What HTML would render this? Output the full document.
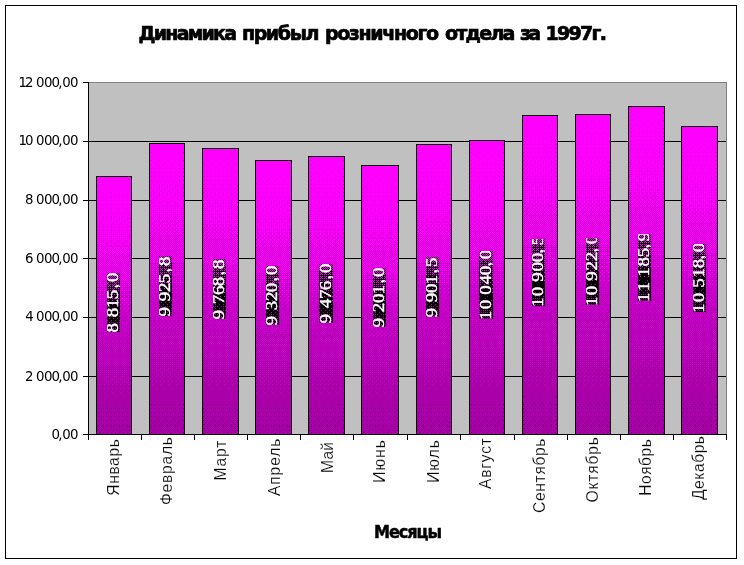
<!DOCTYPE html>
<html lang="ru"><head><meta charset="utf-8"><title>Динамика прибыл розничного отдела за 1997г.</title>
<style>html,body{margin:0;padding:0;background:#fff}body{width:744px;height:565px;overflow:hidden}svg{display:block}.s{font-family:"Liberation Sans",sans-serif}.t2{font-family:"DejaVu Sans","Liberation Sans",sans-serif}.r{font-family:"Liberation Serif",serif}.c{shape-rendering:crispEdges}</style></head><body>
<svg width="744" height="565" viewBox="0 0 744 565">
<defs><pattern id="b1_1" width="8" height="8" patternUnits="userSpaceOnUse"><rect width="8" height="8" fill="#ff00ff"/><path fill="#cc00cc" d="M7 0h1v1h-1z"/></pattern><pattern id="b1_2" width="8" height="8" patternUnits="userSpaceOnUse"><rect width="8" height="8" fill="#ff00ff"/><path fill="#cc00cc" d="M7 0h1v1h-1zM3 4h1v1h-1z"/></pattern><pattern id="b1_4" width="8" height="8" patternUnits="userSpaceOnUse"><rect width="8" height="8" fill="#ff00ff"/><path fill="#cc00cc" d="M3 0h1v1h-1zM7 0h1v1h-1zM3 4h1v1h-1zM7 4h1v1h-1z"/></pattern><pattern id="b1_7" width="8" height="8" patternUnits="userSpaceOnUse"><rect width="8" height="8" fill="#ff00ff"/><path fill="#cc00cc" d="M3 0h1v1h-1zM7 0h1v1h-1zM5 2h1v1h-1zM3 4h1v1h-1zM7 4h1v1h-1zM1 6h1v1h-1zM5 6h1v1h-1z"/></pattern><pattern id="b1_9" width="8" height="8" patternUnits="userSpaceOnUse"><rect width="8" height="8" fill="#ff00ff"/><path fill="#cc00cc" d="M3 0h1v1h-1zM7 0h1v1h-1zM1 2h1v1h-1zM5 2h1v1h-1zM7 2h1v1h-1zM3 4h1v1h-1zM7 4h1v1h-1zM1 6h1v1h-1zM5 6h1v1h-1z"/></pattern><pattern id="b1_11" width="8" height="8" patternUnits="userSpaceOnUse"><rect width="8" height="8" fill="#ff00ff"/><path fill="#cc00cc" d="M3 0h1v1h-1zM7 0h1v1h-1zM1 2h1v1h-1zM5 2h1v1h-1zM7 2h1v1h-1zM3 4h1v1h-1zM7 4h1v1h-1zM1 6h1v1h-1zM3 6h1v1h-1zM5 6h1v1h-1zM7 6h1v1h-1z"/></pattern><pattern id="b1_14" width="8" height="8" patternUnits="userSpaceOnUse"><rect width="8" height="8" fill="#ff00ff"/><path fill="#cc00cc" d="M3 0h1v1h-1zM5 0h1v1h-1zM7 0h1v1h-1zM1 2h1v1h-1zM3 2h1v1h-1zM5 2h1v1h-1zM7 2h1v1h-1zM1 4h1v1h-1zM3 4h1v1h-1zM7 4h1v1h-1zM1 6h1v1h-1zM3 6h1v1h-1zM5 6h1v1h-1zM7 6h1v1h-1z"/></pattern><pattern id="b1_15" width="8" height="8" patternUnits="userSpaceOnUse"><rect width="8" height="8" fill="#ff00ff"/><path fill="#cc00cc" d="M3 0h1v1h-1zM5 0h1v1h-1zM7 0h1v1h-1zM1 2h1v1h-1zM3 2h1v1h-1zM5 2h1v1h-1zM7 2h1v1h-1zM1 4h1v1h-1zM3 4h1v1h-1zM5 4h1v1h-1zM7 4h1v1h-1zM1 6h1v1h-1zM3 6h1v1h-1zM5 6h1v1h-1zM7 6h1v1h-1z"/></pattern><pattern id="b1_18" width="8" height="8" patternUnits="userSpaceOnUse"><rect width="8" height="8" fill="#ff00ff"/><path fill="#cc00cc" d="M1 0h1v1h-1zM3 0h1v1h-1zM5 0h1v1h-1zM7 0h1v1h-1zM6 1h1v1h-1zM1 2h1v1h-1zM3 2h1v1h-1zM5 2h1v1h-1zM7 2h1v1h-1zM1 4h1v1h-1zM3 4h1v1h-1zM5 4h1v1h-1zM7 4h1v1h-1zM2 5h1v1h-1zM1 6h1v1h-1zM3 6h1v1h-1zM5 6h1v1h-1zM7 6h1v1h-1z"/></pattern><pattern id="b1_20" width="8" height="8" patternUnits="userSpaceOnUse"><rect width="8" height="8" fill="#ff00ff"/><path fill="#cc00cc" d="M1 0h1v1h-1zM3 0h1v1h-1zM5 0h1v1h-1zM7 0h1v1h-1zM2 1h1v1h-1zM6 1h1v1h-1zM1 2h1v1h-1zM3 2h1v1h-1zM5 2h1v1h-1zM7 2h1v1h-1zM1 4h1v1h-1zM3 4h1v1h-1zM5 4h1v1h-1zM7 4h1v1h-1zM2 5h1v1h-1zM6 5h1v1h-1zM1 6h1v1h-1zM3 6h1v1h-1zM5 6h1v1h-1zM7 6h1v1h-1z"/></pattern><pattern id="b1_22" width="8" height="8" patternUnits="userSpaceOnUse"><rect width="8" height="8" fill="#ff00ff"/><path fill="#cc00cc" d="M1 0h1v1h-1zM3 0h1v1h-1zM5 0h1v1h-1zM7 0h1v1h-1zM2 1h1v1h-1zM6 1h1v1h-1zM1 2h1v1h-1zM3 2h1v1h-1zM5 2h1v1h-1zM7 2h1v1h-1zM4 3h1v1h-1zM1 4h1v1h-1zM3 4h1v1h-1zM5 4h1v1h-1zM7 4h1v1h-1zM2 5h1v1h-1zM6 5h1v1h-1zM1 6h1v1h-1zM3 6h1v1h-1zM5 6h1v1h-1zM7 6h1v1h-1zM0 7h1v1h-1z"/></pattern><pattern id="b1_23" width="8" height="8" patternUnits="userSpaceOnUse"><rect width="8" height="8" fill="#ff00ff"/><path fill="#cc00cc" d="M1 0h1v1h-1zM3 0h1v1h-1zM5 0h1v1h-1zM7 0h1v1h-1zM2 1h1v1h-1zM6 1h1v1h-1zM1 2h1v1h-1zM3 2h1v1h-1zM5 2h1v1h-1zM7 2h1v1h-1zM4 3h1v1h-1zM1 4h1v1h-1zM3 4h1v1h-1zM5 4h1v1h-1zM7 4h1v1h-1zM2 5h1v1h-1zM6 5h1v1h-1zM1 6h1v1h-1zM3 6h1v1h-1zM5 6h1v1h-1zM7 6h1v1h-1zM0 7h1v1h-1zM4 7h1v1h-1z"/></pattern><pattern id="b1_25" width="8" height="8" patternUnits="userSpaceOnUse"><rect width="8" height="8" fill="#ff00ff"/><path fill="#cc00cc" d="M1 0h1v1h-1zM3 0h1v1h-1zM5 0h1v1h-1zM7 0h1v1h-1zM2 1h1v1h-1zM6 1h1v1h-1zM1 2h1v1h-1zM3 2h1v1h-1zM5 2h1v1h-1zM7 2h1v1h-1zM0 3h1v1h-1zM4 3h1v1h-1zM6 3h1v1h-1zM1 4h1v1h-1zM3 4h1v1h-1zM5 4h1v1h-1zM7 4h1v1h-1zM2 5h1v1h-1zM6 5h1v1h-1zM1 6h1v1h-1zM3 6h1v1h-1zM5 6h1v1h-1zM7 6h1v1h-1zM0 7h1v1h-1zM4 7h1v1h-1z"/></pattern><pattern id="b1_27" width="8" height="8" patternUnits="userSpaceOnUse"><rect width="8" height="8" fill="#ff00ff"/><path fill="#cc00cc" d="M1 0h1v1h-1zM3 0h1v1h-1zM5 0h1v1h-1zM7 0h1v1h-1zM2 1h1v1h-1zM6 1h1v1h-1zM1 2h1v1h-1zM3 2h1v1h-1zM5 2h1v1h-1zM7 2h1v1h-1zM0 3h1v1h-1zM4 3h1v1h-1zM6 3h1v1h-1zM1 4h1v1h-1zM3 4h1v1h-1zM5 4h1v1h-1zM7 4h1v1h-1zM2 5h1v1h-1zM6 5h1v1h-1zM1 6h1v1h-1zM3 6h1v1h-1zM5 6h1v1h-1zM7 6h1v1h-1zM0 7h1v1h-1zM2 7h1v1h-1zM4 7h1v1h-1zM6 7h1v1h-1z"/></pattern><pattern id="b1_30" width="8" height="8" patternUnits="userSpaceOnUse"><rect width="8" height="8" fill="#ff00ff"/><path fill="#cc00cc" d="M1 0h1v1h-1zM3 0h1v1h-1zM5 0h1v1h-1zM7 0h1v1h-1zM2 1h1v1h-1zM4 1h1v1h-1zM6 1h1v1h-1zM1 2h1v1h-1zM3 2h1v1h-1zM5 2h1v1h-1zM7 2h1v1h-1zM0 3h1v1h-1zM2 3h1v1h-1zM4 3h1v1h-1zM6 3h1v1h-1zM1 4h1v1h-1zM3 4h1v1h-1zM5 4h1v1h-1zM7 4h1v1h-1zM0 5h1v1h-1zM2 5h1v1h-1zM6 5h1v1h-1zM1 6h1v1h-1zM3 6h1v1h-1zM5 6h1v1h-1zM7 6h1v1h-1zM0 7h1v1h-1zM2 7h1v1h-1zM4 7h1v1h-1zM6 7h1v1h-1z"/></pattern><pattern id="b1_32" width="8" height="8" patternUnits="userSpaceOnUse"><rect width="8" height="8" fill="#ff00ff"/><path fill="#cc00cc" d="M1 0h1v1h-1zM3 0h1v1h-1zM5 0h1v1h-1zM7 0h1v1h-1zM0 1h1v1h-1zM2 1h1v1h-1zM4 1h1v1h-1zM6 1h1v1h-1zM1 2h1v1h-1zM3 2h1v1h-1zM5 2h1v1h-1zM7 2h1v1h-1zM0 3h1v1h-1zM2 3h1v1h-1zM4 3h1v1h-1zM6 3h1v1h-1zM1 4h1v1h-1zM3 4h1v1h-1zM5 4h1v1h-1zM7 4h1v1h-1zM0 5h1v1h-1zM2 5h1v1h-1zM4 5h1v1h-1zM6 5h1v1h-1zM1 6h1v1h-1zM3 6h1v1h-1zM5 6h1v1h-1zM7 6h1v1h-1zM0 7h1v1h-1zM2 7h1v1h-1zM4 7h1v1h-1zM6 7h1v1h-1z"/></pattern><pattern id="b1_33" width="8" height="8" patternUnits="userSpaceOnUse"><rect width="8" height="8" fill="#cc00cc"/><path fill="#ff00ff" d="M0 0h1v1h-1zM2 0h1v1h-1zM4 0h1v1h-1zM6 0h1v1h-1zM1 1h1v1h-1zM3 1h1v1h-1zM5 1h1v1h-1zM0 2h1v1h-1zM2 2h1v1h-1zM4 2h1v1h-1zM6 2h1v1h-1zM1 3h1v1h-1zM3 3h1v1h-1zM5 3h1v1h-1zM7 3h1v1h-1zM0 4h1v1h-1zM2 4h1v1h-1zM4 4h1v1h-1zM6 4h1v1h-1zM1 5h1v1h-1zM3 5h1v1h-1zM5 5h1v1h-1zM7 5h1v1h-1zM0 6h1v1h-1zM2 6h1v1h-1zM4 6h1v1h-1zM6 6h1v1h-1zM1 7h1v1h-1zM3 7h1v1h-1zM5 7h1v1h-1zM7 7h1v1h-1z"/></pattern><pattern id="b1_43" width="8" height="8" patternUnits="userSpaceOnUse"><rect width="8" height="8" fill="#cc00cc"/><path fill="#ff00ff" d="M0 0h1v1h-1zM2 0h1v1h-1zM4 0h1v1h-1zM6 0h1v1h-1zM1 1h1v1h-1zM5 1h1v1h-1zM0 2h1v1h-1zM2 2h1v1h-1zM4 2h1v1h-1zM6 2h1v1h-1zM3 3h1v1h-1zM0 4h1v1h-1zM2 4h1v1h-1zM4 4h1v1h-1zM6 4h1v1h-1zM1 5h1v1h-1zM5 5h1v1h-1zM0 6h1v1h-1zM2 6h1v1h-1zM4 6h1v1h-1zM6 6h1v1h-1z"/></pattern><pattern id="b1_44" width="8" height="8" patternUnits="userSpaceOnUse"><rect width="8" height="8" fill="#cc00cc"/><path fill="#ff00ff" d="M0 0h1v1h-1zM2 0h1v1h-1zM4 0h1v1h-1zM6 0h1v1h-1zM1 1h1v1h-1zM5 1h1v1h-1zM0 2h1v1h-1zM2 2h1v1h-1zM4 2h1v1h-1zM6 2h1v1h-1zM0 4h1v1h-1zM2 4h1v1h-1zM4 4h1v1h-1zM6 4h1v1h-1zM1 5h1v1h-1zM5 5h1v1h-1zM0 6h1v1h-1zM2 6h1v1h-1zM4 6h1v1h-1zM6 6h1v1h-1z"/></pattern><pattern id="b1_47" width="8" height="8" patternUnits="userSpaceOnUse"><rect width="8" height="8" fill="#cc00cc"/><path fill="#ff00ff" d="M0 0h1v1h-1zM2 0h1v1h-1zM4 0h1v1h-1zM6 0h1v1h-1zM1 1h1v1h-1zM0 2h1v1h-1zM2 2h1v1h-1zM4 2h1v1h-1zM6 2h1v1h-1zM0 4h1v1h-1zM2 4h1v1h-1zM4 4h1v1h-1zM6 4h1v1h-1zM0 6h1v1h-1zM2 6h1v1h-1zM4 6h1v1h-1zM6 6h1v1h-1z"/></pattern><pattern id="b1_52" width="8" height="8" patternUnits="userSpaceOnUse"><rect width="8" height="8" fill="#cc00cc"/><path fill="#ff00ff" d="M0 0h1v1h-1zM4 0h1v1h-1zM0 2h1v1h-1zM2 2h1v1h-1zM4 2h1v1h-1zM6 2h1v1h-1zM0 4h1v1h-1zM4 4h1v1h-1zM0 6h1v1h-1zM2 6h1v1h-1zM4 6h1v1h-1zM6 6h1v1h-1z"/></pattern><pattern id="b1_55" width="8" height="8" patternUnits="userSpaceOnUse"><rect width="8" height="8" fill="#cc00cc"/><path fill="#ff00ff" d="M0 0h1v1h-1zM4 0h1v1h-1zM0 2h1v1h-1zM2 2h1v1h-1zM6 2h1v1h-1zM0 4h1v1h-1zM4 4h1v1h-1zM2 6h1v1h-1zM6 6h1v1h-1z"/></pattern><pattern id="b1_59" width="8" height="8" patternUnits="userSpaceOnUse"><rect width="8" height="8" fill="#cc00cc"/><path fill="#ff00ff" d="M0 0h1v1h-1zM4 0h1v1h-1zM2 2h1v1h-1zM0 4h1v1h-1zM4 4h1v1h-1z"/></pattern><pattern id="b1_60" width="8" height="8" patternUnits="userSpaceOnUse"><rect width="8" height="8" fill="#cc00cc"/><path fill="#ff00ff" d="M0 0h1v1h-1zM4 0h1v1h-1zM0 4h1v1h-1zM4 4h1v1h-1z"/></pattern><pattern id="b2_1" width="8" height="8" patternUnits="userSpaceOnUse"><rect width="8" height="8" fill="#cc00cc"/><path fill="#aa00aa" d="M7 0h1v1h-1z"/></pattern><pattern id="b2_5" width="8" height="8" patternUnits="userSpaceOnUse"><rect width="8" height="8" fill="#cc00cc"/><path fill="#aa00aa" d="M3 0h1v1h-1zM7 0h1v1h-1zM5 2h1v1h-1zM3 4h1v1h-1zM7 4h1v1h-1z"/></pattern><pattern id="b2_7" width="8" height="8" patternUnits="userSpaceOnUse"><rect width="8" height="8" fill="#cc00cc"/><path fill="#aa00aa" d="M3 0h1v1h-1zM7 0h1v1h-1zM5 2h1v1h-1zM3 4h1v1h-1zM7 4h1v1h-1zM1 6h1v1h-1zM5 6h1v1h-1z"/></pattern><pattern id="b2_9" width="8" height="8" patternUnits="userSpaceOnUse"><rect width="8" height="8" fill="#cc00cc"/><path fill="#aa00aa" d="M3 0h1v1h-1zM7 0h1v1h-1zM1 2h1v1h-1zM5 2h1v1h-1zM7 2h1v1h-1zM3 4h1v1h-1zM7 4h1v1h-1zM1 6h1v1h-1zM5 6h1v1h-1z"/></pattern><pattern id="b2_11" width="8" height="8" patternUnits="userSpaceOnUse"><rect width="8" height="8" fill="#cc00cc"/><path fill="#aa00aa" d="M3 0h1v1h-1zM7 0h1v1h-1zM1 2h1v1h-1zM5 2h1v1h-1zM7 2h1v1h-1zM3 4h1v1h-1zM7 4h1v1h-1zM1 6h1v1h-1zM3 6h1v1h-1zM5 6h1v1h-1zM7 6h1v1h-1z"/></pattern><pattern id="b2_14" width="8" height="8" patternUnits="userSpaceOnUse"><rect width="8" height="8" fill="#cc00cc"/><path fill="#aa00aa" d="M3 0h1v1h-1zM5 0h1v1h-1zM7 0h1v1h-1zM1 2h1v1h-1zM3 2h1v1h-1zM5 2h1v1h-1zM7 2h1v1h-1zM1 4h1v1h-1zM3 4h1v1h-1zM7 4h1v1h-1zM1 6h1v1h-1zM3 6h1v1h-1zM5 6h1v1h-1zM7 6h1v1h-1z"/></pattern><pattern id="b2_16" width="8" height="8" patternUnits="userSpaceOnUse"><rect width="8" height="8" fill="#cc00cc"/><path fill="#aa00aa" d="M1 0h1v1h-1zM3 0h1v1h-1zM5 0h1v1h-1zM7 0h1v1h-1zM1 2h1v1h-1zM3 2h1v1h-1zM5 2h1v1h-1zM7 2h1v1h-1zM1 4h1v1h-1zM3 4h1v1h-1zM5 4h1v1h-1zM7 4h1v1h-1zM1 6h1v1h-1zM3 6h1v1h-1zM5 6h1v1h-1zM7 6h1v1h-1z"/></pattern><pattern id="b2_18" width="8" height="8" patternUnits="userSpaceOnUse"><rect width="8" height="8" fill="#cc00cc"/><path fill="#aa00aa" d="M1 0h1v1h-1zM3 0h1v1h-1zM5 0h1v1h-1zM7 0h1v1h-1zM6 1h1v1h-1zM1 2h1v1h-1zM3 2h1v1h-1zM5 2h1v1h-1zM7 2h1v1h-1zM1 4h1v1h-1zM3 4h1v1h-1zM5 4h1v1h-1zM7 4h1v1h-1zM2 5h1v1h-1zM1 6h1v1h-1zM3 6h1v1h-1zM5 6h1v1h-1zM7 6h1v1h-1z"/></pattern><pattern id="b2_20" width="8" height="8" patternUnits="userSpaceOnUse"><rect width="8" height="8" fill="#cc00cc"/><path fill="#aa00aa" d="M1 0h1v1h-1zM3 0h1v1h-1zM5 0h1v1h-1zM7 0h1v1h-1zM2 1h1v1h-1zM6 1h1v1h-1zM1 2h1v1h-1zM3 2h1v1h-1zM5 2h1v1h-1zM7 2h1v1h-1zM1 4h1v1h-1zM3 4h1v1h-1zM5 4h1v1h-1zM7 4h1v1h-1zM2 5h1v1h-1zM6 5h1v1h-1zM1 6h1v1h-1zM3 6h1v1h-1zM5 6h1v1h-1zM7 6h1v1h-1z"/></pattern><pattern id="b2_22" width="8" height="8" patternUnits="userSpaceOnUse"><rect width="8" height="8" fill="#cc00cc"/><path fill="#aa00aa" d="M1 0h1v1h-1zM3 0h1v1h-1zM5 0h1v1h-1zM7 0h1v1h-1zM2 1h1v1h-1zM6 1h1v1h-1zM1 2h1v1h-1zM3 2h1v1h-1zM5 2h1v1h-1zM7 2h1v1h-1zM4 3h1v1h-1zM1 4h1v1h-1zM3 4h1v1h-1zM5 4h1v1h-1zM7 4h1v1h-1zM2 5h1v1h-1zM6 5h1v1h-1zM1 6h1v1h-1zM3 6h1v1h-1zM5 6h1v1h-1zM7 6h1v1h-1zM0 7h1v1h-1z"/></pattern><pattern id="b2_25" width="8" height="8" patternUnits="userSpaceOnUse"><rect width="8" height="8" fill="#cc00cc"/><path fill="#aa00aa" d="M1 0h1v1h-1zM3 0h1v1h-1zM5 0h1v1h-1zM7 0h1v1h-1zM2 1h1v1h-1zM6 1h1v1h-1zM1 2h1v1h-1zM3 2h1v1h-1zM5 2h1v1h-1zM7 2h1v1h-1zM0 3h1v1h-1zM4 3h1v1h-1zM6 3h1v1h-1zM1 4h1v1h-1zM3 4h1v1h-1zM5 4h1v1h-1zM7 4h1v1h-1zM2 5h1v1h-1zM6 5h1v1h-1zM1 6h1v1h-1zM3 6h1v1h-1zM5 6h1v1h-1zM7 6h1v1h-1zM0 7h1v1h-1zM4 7h1v1h-1z"/></pattern><pattern id="b2_27" width="8" height="8" patternUnits="userSpaceOnUse"><rect width="8" height="8" fill="#cc00cc"/><path fill="#aa00aa" d="M1 0h1v1h-1zM3 0h1v1h-1zM5 0h1v1h-1zM7 0h1v1h-1zM2 1h1v1h-1zM6 1h1v1h-1zM1 2h1v1h-1zM3 2h1v1h-1zM5 2h1v1h-1zM7 2h1v1h-1zM0 3h1v1h-1zM4 3h1v1h-1zM6 3h1v1h-1zM1 4h1v1h-1zM3 4h1v1h-1zM5 4h1v1h-1zM7 4h1v1h-1zM2 5h1v1h-1zM6 5h1v1h-1zM1 6h1v1h-1zM3 6h1v1h-1zM5 6h1v1h-1zM7 6h1v1h-1zM0 7h1v1h-1zM2 7h1v1h-1zM4 7h1v1h-1zM6 7h1v1h-1z"/></pattern><pattern id="b2_29" width="8" height="8" patternUnits="userSpaceOnUse"><rect width="8" height="8" fill="#cc00cc"/><path fill="#aa00aa" d="M1 0h1v1h-1zM3 0h1v1h-1zM5 0h1v1h-1zM7 0h1v1h-1zM2 1h1v1h-1zM4 1h1v1h-1zM6 1h1v1h-1zM1 2h1v1h-1zM3 2h1v1h-1zM5 2h1v1h-1zM7 2h1v1h-1zM0 3h1v1h-1zM2 3h1v1h-1zM4 3h1v1h-1zM6 3h1v1h-1zM1 4h1v1h-1zM3 4h1v1h-1zM5 4h1v1h-1zM7 4h1v1h-1zM2 5h1v1h-1zM6 5h1v1h-1zM1 6h1v1h-1zM3 6h1v1h-1zM5 6h1v1h-1zM7 6h1v1h-1zM0 7h1v1h-1zM2 7h1v1h-1zM4 7h1v1h-1zM6 7h1v1h-1z"/></pattern><pattern id="b2_30" width="8" height="8" patternUnits="userSpaceOnUse"><rect width="8" height="8" fill="#cc00cc"/><path fill="#aa00aa" d="M1 0h1v1h-1zM3 0h1v1h-1zM5 0h1v1h-1zM7 0h1v1h-1zM2 1h1v1h-1zM4 1h1v1h-1zM6 1h1v1h-1zM1 2h1v1h-1zM3 2h1v1h-1zM5 2h1v1h-1zM7 2h1v1h-1zM0 3h1v1h-1zM2 3h1v1h-1zM4 3h1v1h-1zM6 3h1v1h-1zM1 4h1v1h-1zM3 4h1v1h-1zM5 4h1v1h-1zM7 4h1v1h-1zM0 5h1v1h-1zM2 5h1v1h-1zM6 5h1v1h-1zM1 6h1v1h-1zM3 6h1v1h-1zM5 6h1v1h-1zM7 6h1v1h-1zM0 7h1v1h-1zM2 7h1v1h-1zM4 7h1v1h-1zM6 7h1v1h-1z"/></pattern><pattern id="b2_31" width="8" height="8" patternUnits="userSpaceOnUse"><rect width="8" height="8" fill="#cc00cc"/><path fill="#aa00aa" d="M1 0h1v1h-1zM3 0h1v1h-1zM5 0h1v1h-1zM7 0h1v1h-1zM2 1h1v1h-1zM4 1h1v1h-1zM6 1h1v1h-1zM1 2h1v1h-1zM3 2h1v1h-1zM5 2h1v1h-1zM7 2h1v1h-1zM0 3h1v1h-1zM2 3h1v1h-1zM4 3h1v1h-1zM6 3h1v1h-1zM1 4h1v1h-1zM3 4h1v1h-1zM5 4h1v1h-1zM7 4h1v1h-1zM0 5h1v1h-1zM2 5h1v1h-1zM4 5h1v1h-1zM6 5h1v1h-1zM1 6h1v1h-1zM3 6h1v1h-1zM5 6h1v1h-1zM7 6h1v1h-1zM0 7h1v1h-1zM2 7h1v1h-1zM4 7h1v1h-1zM6 7h1v1h-1z"/></pattern><pattern id="b2_32" width="8" height="8" patternUnits="userSpaceOnUse"><rect width="8" height="8" fill="#cc00cc"/><path fill="#aa00aa" d="M1 0h1v1h-1zM3 0h1v1h-1zM5 0h1v1h-1zM7 0h1v1h-1zM0 1h1v1h-1zM2 1h1v1h-1zM4 1h1v1h-1zM6 1h1v1h-1zM1 2h1v1h-1zM3 2h1v1h-1zM5 2h1v1h-1zM7 2h1v1h-1zM0 3h1v1h-1zM2 3h1v1h-1zM4 3h1v1h-1zM6 3h1v1h-1zM1 4h1v1h-1zM3 4h1v1h-1zM5 4h1v1h-1zM7 4h1v1h-1zM0 5h1v1h-1zM2 5h1v1h-1zM4 5h1v1h-1zM6 5h1v1h-1zM1 6h1v1h-1zM3 6h1v1h-1zM5 6h1v1h-1zM7 6h1v1h-1zM0 7h1v1h-1zM2 7h1v1h-1zM4 7h1v1h-1zM6 7h1v1h-1z"/></pattern><pattern id="b2_33" width="8" height="8" patternUnits="userSpaceOnUse"><rect width="8" height="8" fill="#aa00aa"/><path fill="#cc00cc" d="M0 0h1v1h-1zM2 0h1v1h-1zM4 0h1v1h-1zM6 0h1v1h-1zM1 1h1v1h-1zM3 1h1v1h-1zM5 1h1v1h-1zM0 2h1v1h-1zM2 2h1v1h-1zM4 2h1v1h-1zM6 2h1v1h-1zM1 3h1v1h-1zM3 3h1v1h-1zM5 3h1v1h-1zM7 3h1v1h-1zM0 4h1v1h-1zM2 4h1v1h-1zM4 4h1v1h-1zM6 4h1v1h-1zM1 5h1v1h-1zM3 5h1v1h-1zM5 5h1v1h-1zM7 5h1v1h-1zM0 6h1v1h-1zM2 6h1v1h-1zM4 6h1v1h-1zM6 6h1v1h-1zM1 7h1v1h-1zM3 7h1v1h-1zM5 7h1v1h-1zM7 7h1v1h-1z"/></pattern><pattern id="b2_35" width="8" height="8" patternUnits="userSpaceOnUse"><rect width="8" height="8" fill="#aa00aa"/><path fill="#cc00cc" d="M0 0h1v1h-1zM2 0h1v1h-1zM4 0h1v1h-1zM6 0h1v1h-1zM1 1h1v1h-1zM3 1h1v1h-1zM5 1h1v1h-1zM0 2h1v1h-1zM2 2h1v1h-1zM4 2h1v1h-1zM6 2h1v1h-1zM1 3h1v1h-1zM3 3h1v1h-1zM5 3h1v1h-1zM7 3h1v1h-1zM0 4h1v1h-1zM2 4h1v1h-1zM4 4h1v1h-1zM6 4h1v1h-1zM1 5h1v1h-1zM5 5h1v1h-1zM0 6h1v1h-1zM2 6h1v1h-1zM4 6h1v1h-1zM6 6h1v1h-1zM1 7h1v1h-1zM3 7h1v1h-1zM5 7h1v1h-1zM7 7h1v1h-1z"/></pattern><pattern id="b2_36" width="8" height="8" patternUnits="userSpaceOnUse"><rect width="8" height="8" fill="#aa00aa"/><path fill="#cc00cc" d="M0 0h1v1h-1zM2 0h1v1h-1zM4 0h1v1h-1zM6 0h1v1h-1zM1 1h1v1h-1zM5 1h1v1h-1zM0 2h1v1h-1zM2 2h1v1h-1zM4 2h1v1h-1zM6 2h1v1h-1zM1 3h1v1h-1zM3 3h1v1h-1zM5 3h1v1h-1zM7 3h1v1h-1zM0 4h1v1h-1zM2 4h1v1h-1zM4 4h1v1h-1zM6 4h1v1h-1zM1 5h1v1h-1zM5 5h1v1h-1zM0 6h1v1h-1zM2 6h1v1h-1zM4 6h1v1h-1zM6 6h1v1h-1zM1 7h1v1h-1zM3 7h1v1h-1zM5 7h1v1h-1zM7 7h1v1h-1z"/></pattern><pattern id="b2_40" width="8" height="8" patternUnits="userSpaceOnUse"><rect width="8" height="8" fill="#aa00aa"/><path fill="#cc00cc" d="M0 0h1v1h-1zM2 0h1v1h-1zM4 0h1v1h-1zM6 0h1v1h-1zM1 1h1v1h-1zM5 1h1v1h-1zM0 2h1v1h-1zM2 2h1v1h-1zM4 2h1v1h-1zM6 2h1v1h-1zM3 3h1v1h-1zM7 3h1v1h-1zM0 4h1v1h-1zM2 4h1v1h-1zM4 4h1v1h-1zM6 4h1v1h-1zM1 5h1v1h-1zM5 5h1v1h-1zM0 6h1v1h-1zM2 6h1v1h-1zM4 6h1v1h-1zM6 6h1v1h-1zM3 7h1v1h-1zM7 7h1v1h-1z"/></pattern><pattern id="b2_43" width="8" height="8" patternUnits="userSpaceOnUse"><rect width="8" height="8" fill="#aa00aa"/><path fill="#cc00cc" d="M0 0h1v1h-1zM2 0h1v1h-1zM4 0h1v1h-1zM6 0h1v1h-1zM1 1h1v1h-1zM5 1h1v1h-1zM0 2h1v1h-1zM2 2h1v1h-1zM4 2h1v1h-1zM6 2h1v1h-1zM3 3h1v1h-1zM0 4h1v1h-1zM2 4h1v1h-1zM4 4h1v1h-1zM6 4h1v1h-1zM1 5h1v1h-1zM5 5h1v1h-1zM0 6h1v1h-1zM2 6h1v1h-1zM4 6h1v1h-1zM6 6h1v1h-1z"/></pattern><pattern id="b2_46" width="8" height="8" patternUnits="userSpaceOnUse"><rect width="8" height="8" fill="#aa00aa"/><path fill="#cc00cc" d="M0 0h1v1h-1zM2 0h1v1h-1zM4 0h1v1h-1zM6 0h1v1h-1zM1 1h1v1h-1zM0 2h1v1h-1zM2 2h1v1h-1zM4 2h1v1h-1zM6 2h1v1h-1zM0 4h1v1h-1zM2 4h1v1h-1zM4 4h1v1h-1zM6 4h1v1h-1zM5 5h1v1h-1zM0 6h1v1h-1zM2 6h1v1h-1zM4 6h1v1h-1zM6 6h1v1h-1z"/></pattern><pattern id="b2_49" width="8" height="8" patternUnits="userSpaceOnUse"><rect width="8" height="8" fill="#aa00aa"/><path fill="#cc00cc" d="M0 0h1v1h-1zM2 0h1v1h-1zM4 0h1v1h-1zM0 2h1v1h-1zM2 2h1v1h-1zM4 2h1v1h-1zM6 2h1v1h-1zM0 4h1v1h-1zM2 4h1v1h-1zM4 4h1v1h-1zM6 4h1v1h-1zM0 6h1v1h-1zM2 6h1v1h-1zM4 6h1v1h-1zM6 6h1v1h-1z"/></pattern><pattern id="b2_51" width="8" height="8" patternUnits="userSpaceOnUse"><rect width="8" height="8" fill="#aa00aa"/><path fill="#cc00cc" d="M0 0h1v1h-1zM2 0h1v1h-1zM4 0h1v1h-1zM0 2h1v1h-1zM2 2h1v1h-1zM4 2h1v1h-1zM6 2h1v1h-1zM0 4h1v1h-1zM4 4h1v1h-1zM0 6h1v1h-1zM2 6h1v1h-1zM4 6h1v1h-1zM6 6h1v1h-1z"/></pattern><pattern id="b2_54" width="8" height="8" patternUnits="userSpaceOnUse"><rect width="8" height="8" fill="#aa00aa"/><path fill="#cc00cc" d="M0 0h1v1h-1zM4 0h1v1h-1zM0 2h1v1h-1zM2 2h1v1h-1zM6 2h1v1h-1zM0 4h1v1h-1zM4 4h1v1h-1zM2 6h1v1h-1zM4 6h1v1h-1zM6 6h1v1h-1z"/></pattern><pattern id="b2_56" width="8" height="8" patternUnits="userSpaceOnUse"><rect width="8" height="8" fill="#aa00aa"/><path fill="#cc00cc" d="M0 0h1v1h-1zM4 0h1v1h-1zM2 2h1v1h-1zM6 2h1v1h-1zM0 4h1v1h-1zM4 4h1v1h-1zM2 6h1v1h-1zM6 6h1v1h-1z"/></pattern><pattern id="b2_58" width="8" height="8" patternUnits="userSpaceOnUse"><rect width="8" height="8" fill="#aa00aa"/><path fill="#cc00cc" d="M0 0h1v1h-1zM4 0h1v1h-1zM2 2h1v1h-1zM0 4h1v1h-1zM4 4h1v1h-1zM6 6h1v1h-1z"/></pattern><pattern id="b2_60" width="8" height="8" patternUnits="userSpaceOnUse"><rect width="8" height="8" fill="#aa00aa"/><path fill="#cc00cc" d="M0 0h1v1h-1zM4 0h1v1h-1zM0 4h1v1h-1zM4 4h1v1h-1z"/></pattern><pattern id="b2_61" width="8" height="8" patternUnits="userSpaceOnUse"><rect width="8" height="8" fill="#aa00aa"/><path fill="#cc00cc" d="M0 0h1v1h-1zM0 4h1v1h-1zM4 4h1v1h-1z"/></pattern><pattern id="b2_62" width="8" height="8" patternUnits="userSpaceOnUse"><rect width="8" height="8" fill="#aa00aa"/><path fill="#cc00cc" d="M0 0h1v1h-1zM4 4h1v1h-1z"/></pattern><pattern id="b2_63" width="8" height="8" patternUnits="userSpaceOnUse"><rect width="8" height="8" fill="#aa00aa"/><path fill="#cc00cc" d="M0 0h1v1h-1z"/></pattern><pattern id="b3_1" width="8" height="8" patternUnits="userSpaceOnUse"><rect width="8" height="8" fill="#aa00aa"/><path fill="#660066" d="M3 4h1v1h-1z"/></pattern><pattern id="b3_5" width="8" height="8" patternUnits="userSpaceOnUse"><rect width="8" height="8" fill="#aa00aa"/><path fill="#660066" d="M3 0h1v1h-1zM7 0h1v1h-1zM5 2h1v1h-1zM3 4h1v1h-1zM7 4h1v1h-1z"/></pattern><pattern id="b3_9" width="8" height="8" patternUnits="userSpaceOnUse"><rect width="8" height="8" fill="#aa00aa"/><path fill="#660066" d="M3 0h1v1h-1zM7 0h1v1h-1zM1 2h1v1h-1zM5 2h1v1h-1zM7 2h1v1h-1zM3 4h1v1h-1zM7 4h1v1h-1zM1 6h1v1h-1zM5 6h1v1h-1z"/></pattern><pattern id="l1_32" width="8" height="8" patternUnits="userSpaceOnUse"><rect width="8" height="8" fill="#ff00ff"/><path fill="#000" d="M1 0h1v1h-1zM3 0h1v1h-1zM5 0h1v1h-1zM7 0h1v1h-1zM0 1h1v1h-1zM2 1h1v1h-1zM4 1h1v1h-1zM6 1h1v1h-1zM1 2h1v1h-1zM3 2h1v1h-1zM5 2h1v1h-1zM7 2h1v1h-1zM0 3h1v1h-1zM2 3h1v1h-1zM4 3h1v1h-1zM6 3h1v1h-1zM1 4h1v1h-1zM3 4h1v1h-1zM5 4h1v1h-1zM7 4h1v1h-1zM0 5h1v1h-1zM2 5h1v1h-1zM4 5h1v1h-1zM6 5h1v1h-1zM1 6h1v1h-1zM3 6h1v1h-1zM5 6h1v1h-1zM7 6h1v1h-1zM0 7h1v1h-1zM2 7h1v1h-1zM4 7h1v1h-1zM6 7h1v1h-1z"/></pattern><pattern id="l1_33" width="8" height="8" patternUnits="userSpaceOnUse"><rect width="8" height="8" fill="#000"/><path fill="#ff00ff" d="M0 0h1v1h-1zM2 0h1v1h-1zM4 0h1v1h-1zM6 0h1v1h-1zM1 1h1v1h-1zM3 1h1v1h-1zM5 1h1v1h-1zM0 2h1v1h-1zM2 2h1v1h-1zM4 2h1v1h-1zM6 2h1v1h-1zM1 3h1v1h-1zM3 3h1v1h-1zM5 3h1v1h-1zM7 3h1v1h-1zM0 4h1v1h-1zM2 4h1v1h-1zM4 4h1v1h-1zM6 4h1v1h-1zM1 5h1v1h-1zM3 5h1v1h-1zM5 5h1v1h-1zM7 5h1v1h-1zM0 6h1v1h-1zM2 6h1v1h-1zM4 6h1v1h-1zM6 6h1v1h-1zM1 7h1v1h-1zM3 7h1v1h-1zM5 7h1v1h-1zM7 7h1v1h-1z"/></pattern><pattern id="l1_43" width="8" height="8" patternUnits="userSpaceOnUse"><rect width="8" height="8" fill="#000"/><path fill="#ff00ff" d="M0 0h1v1h-1zM2 0h1v1h-1zM4 0h1v1h-1zM6 0h1v1h-1zM1 1h1v1h-1zM5 1h1v1h-1zM0 2h1v1h-1zM2 2h1v1h-1zM4 2h1v1h-1zM6 2h1v1h-1zM3 3h1v1h-1zM0 4h1v1h-1zM2 4h1v1h-1zM4 4h1v1h-1zM6 4h1v1h-1zM1 5h1v1h-1zM5 5h1v1h-1zM0 6h1v1h-1zM2 6h1v1h-1zM4 6h1v1h-1zM6 6h1v1h-1z"/></pattern><pattern id="l1_44" width="8" height="8" patternUnits="userSpaceOnUse"><rect width="8" height="8" fill="#000"/><path fill="#ff00ff" d="M0 0h1v1h-1zM2 0h1v1h-1zM4 0h1v1h-1zM6 0h1v1h-1zM1 1h1v1h-1zM5 1h1v1h-1zM0 2h1v1h-1zM2 2h1v1h-1zM4 2h1v1h-1zM6 2h1v1h-1zM0 4h1v1h-1zM2 4h1v1h-1zM4 4h1v1h-1zM6 4h1v1h-1zM1 5h1v1h-1zM5 5h1v1h-1zM0 6h1v1h-1zM2 6h1v1h-1zM4 6h1v1h-1zM6 6h1v1h-1z"/></pattern><pattern id="l1_47" width="8" height="8" patternUnits="userSpaceOnUse"><rect width="8" height="8" fill="#000"/><path fill="#ff00ff" d="M0 0h1v1h-1zM2 0h1v1h-1zM4 0h1v1h-1zM6 0h1v1h-1zM1 1h1v1h-1zM0 2h1v1h-1zM2 2h1v1h-1zM4 2h1v1h-1zM6 2h1v1h-1zM0 4h1v1h-1zM2 4h1v1h-1zM4 4h1v1h-1zM6 4h1v1h-1zM0 6h1v1h-1zM2 6h1v1h-1zM4 6h1v1h-1zM6 6h1v1h-1z"/></pattern><pattern id="l1_52" width="8" height="8" patternUnits="userSpaceOnUse"><rect width="8" height="8" fill="#000"/><path fill="#ff00ff" d="M0 0h1v1h-1zM4 0h1v1h-1zM0 2h1v1h-1zM2 2h1v1h-1zM4 2h1v1h-1zM6 2h1v1h-1zM0 4h1v1h-1zM4 4h1v1h-1zM0 6h1v1h-1zM2 6h1v1h-1zM4 6h1v1h-1zM6 6h1v1h-1z"/></pattern><pattern id="l1_55" width="8" height="8" patternUnits="userSpaceOnUse"><rect width="8" height="8" fill="#000"/><path fill="#ff00ff" d="M0 0h1v1h-1zM4 0h1v1h-1zM0 2h1v1h-1zM2 2h1v1h-1zM6 2h1v1h-1zM0 4h1v1h-1zM4 4h1v1h-1zM2 6h1v1h-1zM6 6h1v1h-1z"/></pattern><pattern id="l1_59" width="8" height="8" patternUnits="userSpaceOnUse"><rect width="8" height="8" fill="#000"/><path fill="#ff00ff" d="M0 0h1v1h-1zM4 0h1v1h-1zM2 2h1v1h-1zM0 4h1v1h-1zM4 4h1v1h-1z"/></pattern><pattern id="l1_60" width="8" height="8" patternUnits="userSpaceOnUse"><rect width="8" height="8" fill="#000"/><path fill="#ff00ff" d="M0 0h1v1h-1zM4 0h1v1h-1zM0 4h1v1h-1zM4 4h1v1h-1z"/></pattern><pattern id="l2_1" width="8" height="8" patternUnits="userSpaceOnUse"><rect width="8" height="8" fill="#000"/><path fill="#aa00aa" d="M7 0h1v1h-1z"/></pattern><pattern id="l2_5" width="8" height="8" patternUnits="userSpaceOnUse"><rect width="8" height="8" fill="#000"/><path fill="#aa00aa" d="M3 0h1v1h-1zM7 0h1v1h-1zM5 2h1v1h-1zM3 4h1v1h-1zM7 4h1v1h-1z"/></pattern><pattern id="l2_7" width="8" height="8" patternUnits="userSpaceOnUse"><rect width="8" height="8" fill="#000"/><path fill="#aa00aa" d="M3 0h1v1h-1zM7 0h1v1h-1zM5 2h1v1h-1zM3 4h1v1h-1zM7 4h1v1h-1zM1 6h1v1h-1zM5 6h1v1h-1z"/></pattern><pattern id="l2_9" width="8" height="8" patternUnits="userSpaceOnUse"><rect width="8" height="8" fill="#000"/><path fill="#aa00aa" d="M3 0h1v1h-1zM7 0h1v1h-1zM1 2h1v1h-1zM5 2h1v1h-1zM7 2h1v1h-1zM3 4h1v1h-1zM7 4h1v1h-1zM1 6h1v1h-1zM5 6h1v1h-1z"/></pattern><pattern id="l2_11" width="8" height="8" patternUnits="userSpaceOnUse"><rect width="8" height="8" fill="#000"/><path fill="#aa00aa" d="M3 0h1v1h-1zM7 0h1v1h-1zM1 2h1v1h-1zM5 2h1v1h-1zM7 2h1v1h-1zM3 4h1v1h-1zM7 4h1v1h-1zM1 6h1v1h-1zM3 6h1v1h-1zM5 6h1v1h-1zM7 6h1v1h-1z"/></pattern><pattern id="l2_14" width="8" height="8" patternUnits="userSpaceOnUse"><rect width="8" height="8" fill="#000"/><path fill="#aa00aa" d="M3 0h1v1h-1zM5 0h1v1h-1zM7 0h1v1h-1zM1 2h1v1h-1zM3 2h1v1h-1zM5 2h1v1h-1zM7 2h1v1h-1zM1 4h1v1h-1zM3 4h1v1h-1zM7 4h1v1h-1zM1 6h1v1h-1zM3 6h1v1h-1zM5 6h1v1h-1zM7 6h1v1h-1z"/></pattern><pattern id="l2_16" width="8" height="8" patternUnits="userSpaceOnUse"><rect width="8" height="8" fill="#000"/><path fill="#aa00aa" d="M1 0h1v1h-1zM3 0h1v1h-1zM5 0h1v1h-1zM7 0h1v1h-1zM1 2h1v1h-1zM3 2h1v1h-1zM5 2h1v1h-1zM7 2h1v1h-1zM1 4h1v1h-1zM3 4h1v1h-1zM5 4h1v1h-1zM7 4h1v1h-1zM1 6h1v1h-1zM3 6h1v1h-1zM5 6h1v1h-1zM7 6h1v1h-1z"/></pattern><pattern id="l2_18" width="8" height="8" patternUnits="userSpaceOnUse"><rect width="8" height="8" fill="#000"/><path fill="#aa00aa" d="M1 0h1v1h-1zM3 0h1v1h-1zM5 0h1v1h-1zM7 0h1v1h-1zM6 1h1v1h-1zM1 2h1v1h-1zM3 2h1v1h-1zM5 2h1v1h-1zM7 2h1v1h-1zM1 4h1v1h-1zM3 4h1v1h-1zM5 4h1v1h-1zM7 4h1v1h-1zM2 5h1v1h-1zM1 6h1v1h-1zM3 6h1v1h-1zM5 6h1v1h-1zM7 6h1v1h-1z"/></pattern><pattern id="l2_20" width="8" height="8" patternUnits="userSpaceOnUse"><rect width="8" height="8" fill="#000"/><path fill="#aa00aa" d="M1 0h1v1h-1zM3 0h1v1h-1zM5 0h1v1h-1zM7 0h1v1h-1zM2 1h1v1h-1zM6 1h1v1h-1zM1 2h1v1h-1zM3 2h1v1h-1zM5 2h1v1h-1zM7 2h1v1h-1zM1 4h1v1h-1zM3 4h1v1h-1zM5 4h1v1h-1zM7 4h1v1h-1zM2 5h1v1h-1zM6 5h1v1h-1zM1 6h1v1h-1zM3 6h1v1h-1zM5 6h1v1h-1zM7 6h1v1h-1z"/></pattern></defs>
<rect width="744" height="565" fill="#fff"/>
<g class="c">
<rect x="5.5" y="5.5" width="731" height="553" fill="#fff" stroke="#000" stroke-width="1"/>
<rect x="88" y="82" width="639" height="353" fill="#808080"/>
<rect x="89" y="83" width="637" height="351" fill="#c0c0c0"/>
<rect x="88" y="141" width="638" height="1" fill="#000"/>
<rect x="88" y="200" width="638" height="1" fill="#000"/>
<rect x="88" y="258" width="638" height="1" fill="#000"/>
<rect x="88" y="317" width="638" height="1" fill="#000"/>
<rect x="88" y="376" width="638" height="1" fill="#000"/>
<rect x="88" y="82" width="1" height="353" fill="#000"/>
<rect x="88" y="434" width="639" height="1" fill="#000"/>
<rect x="83" y="82" width="5" height="1" fill="#000"/>
<rect x="83" y="141" width="5" height="1" fill="#000"/>
<rect x="83" y="200" width="5" height="1" fill="#000"/>
<rect x="83" y="258" width="5" height="1" fill="#000"/>
<rect x="83" y="317" width="5" height="1" fill="#000"/>
<rect x="83" y="376" width="5" height="1" fill="#000"/>
<rect x="83" y="434" width="5" height="1" fill="#000"/>
<rect x="88" y="434" width="1" height="6" fill="#000"/>
<rect x="141" y="434" width="1" height="6" fill="#000"/>
<rect x="194" y="434" width="1" height="6" fill="#000"/>
<rect x="247" y="434" width="1" height="6" fill="#000"/>
<rect x="300" y="434" width="1" height="6" fill="#000"/>
<rect x="353" y="434" width="1" height="6" fill="#000"/>
<rect x="407" y="434" width="1" height="6" fill="#000"/>
<rect x="460" y="434" width="1" height="6" fill="#000"/>
<rect x="514" y="434" width="1" height="6" fill="#000"/>
<rect x="567" y="434" width="1" height="6" fill="#000"/>
<rect x="620" y="434" width="1" height="6" fill="#000"/>
<rect x="673" y="434" width="1" height="6" fill="#000"/>
<rect x="726" y="434" width="1" height="6" fill="#000"/>
<rect x="96" y="176" width="36" height="258" fill="#000"/>
<rect x="97" y="177" width="34" height="3" fill="#ff00ff"/>
<rect x="97" y="180" width="34" height="10" fill="url(#b1_1)"/>
<rect x="97" y="190" width="34" height="6" fill="url(#b1_2)"/>
<rect x="97" y="196" width="34" height="13" fill="url(#b1_4)"/>
<rect x="97" y="209" width="34" height="5" fill="url(#b1_7)"/>
<rect x="97" y="214" width="34" height="14" fill="url(#b1_9)"/>
<rect x="97" y="228" width="34" height="3" fill="url(#b1_11)"/>
<rect x="97" y="231" width="34" height="5" fill="url(#b1_14)"/>
<rect x="97" y="236" width="34" height="5" fill="url(#b1_15)"/>
<rect x="97" y="241" width="34" height="3" fill="url(#b1_18)"/>
<rect x="97" y="244" width="34" height="3" fill="url(#b1_20)"/>
<rect x="97" y="247" width="34" height="2" fill="url(#b1_22)"/>
<rect x="97" y="249" width="34" height="3" fill="url(#b1_23)"/>
<rect x="97" y="252" width="34" height="3" fill="url(#b1_25)"/>
<rect x="97" y="255" width="34" height="2" fill="url(#b1_27)"/>
<rect x="97" y="257" width="34" height="3" fill="url(#b1_30)"/>
<rect x="97" y="260" width="34" height="19" fill="url(#b1_32)"/>
<rect x="97" y="279" width="34" height="2" fill="url(#b1_33)"/>
<rect x="97" y="281" width="34" height="3" fill="url(#b1_43)"/>
<rect x="97" y="284" width="34" height="5" fill="url(#b1_44)"/>
<rect x="97" y="289" width="34" height="3" fill="url(#b1_47)"/>
<rect x="97" y="292" width="34" height="8" fill="url(#b1_52)"/>
<rect x="97" y="300" width="34" height="3" fill="url(#b1_55)"/>
<rect x="97" y="303" width="34" height="2" fill="url(#b1_59)"/>
<rect x="97" y="305" width="34" height="6" fill="url(#b1_60)"/>
<rect x="97" y="311" width="34" height="3" fill="url(#b2_1)"/>
<rect x="97" y="314" width="34" height="2" fill="url(#b2_5)"/>
<rect x="97" y="316" width="34" height="3" fill="url(#b2_7)"/>
<rect x="97" y="319" width="34" height="3" fill="url(#b2_9)"/>
<rect x="97" y="322" width="34" height="2" fill="url(#b2_11)"/>
<rect x="97" y="324" width="34" height="3" fill="url(#b2_14)"/>
<rect x="97" y="327" width="34" height="3" fill="url(#b2_16)"/>
<rect x="97" y="330" width="34" height="2" fill="url(#b2_18)"/>
<rect x="97" y="332" width="34" height="3" fill="url(#b2_20)"/>
<rect x="97" y="335" width="34" height="3" fill="url(#b2_22)"/>
<rect x="97" y="338" width="34" height="2" fill="url(#b2_25)"/>
<rect x="97" y="340" width="34" height="3" fill="url(#b2_27)"/>
<rect x="97" y="343" width="34" height="3" fill="url(#b2_29)"/>
<rect x="97" y="346" width="34" height="2" fill="url(#b2_30)"/>
<rect x="97" y="348" width="34" height="3" fill="url(#b2_31)"/>
<rect x="97" y="351" width="34" height="5" fill="url(#b2_32)"/>
<rect x="97" y="356" width="34" height="3" fill="url(#b2_33)"/>
<rect x="97" y="359" width="34" height="3" fill="url(#b2_35)"/>
<rect x="97" y="362" width="34" height="2" fill="url(#b2_36)"/>
<rect x="97" y="364" width="34" height="3" fill="url(#b2_40)"/>
<rect x="97" y="367" width="34" height="3" fill="url(#b2_43)"/>
<rect x="97" y="370" width="34" height="2" fill="url(#b2_46)"/>
<rect x="97" y="372" width="34" height="3" fill="url(#b2_49)"/>
<rect x="97" y="375" width="34" height="3" fill="url(#b2_51)"/>
<rect x="97" y="378" width="34" height="2" fill="url(#b2_54)"/>
<rect x="97" y="380" width="34" height="3" fill="url(#b2_56)"/>
<rect x="97" y="383" width="34" height="3" fill="url(#b2_58)"/>
<rect x="97" y="386" width="34" height="2" fill="url(#b2_60)"/>
<rect x="97" y="388" width="34" height="3" fill="url(#b2_61)"/>
<rect x="97" y="391" width="34" height="3" fill="url(#b2_62)"/>
<rect x="97" y="394" width="34" height="3" fill="url(#b2_63)"/>
<rect x="97" y="397" width="34" height="2" fill="#aa00aa"/>
<rect x="97" y="399" width="34" height="3" fill="#aa00aa"/>
<rect x="97" y="402" width="34" height="5" fill="url(#b3_1)"/>
<rect x="97" y="407" width="34" height="16" fill="url(#b3_5)"/>
<rect x="97" y="423" width="34" height="11" fill="url(#b3_9)"/>
<rect x="107" y="273" width="13" height="6" fill="url(#l1_32)"/>
<rect x="107" y="279" width="13" height="2" fill="url(#l1_33)"/>
<rect x="107" y="281" width="13" height="3" fill="url(#l1_43)"/>
<rect x="107" y="284" width="13" height="5" fill="url(#l1_44)"/>
<rect x="107" y="289" width="13" height="3" fill="url(#l1_47)"/>
<rect x="107" y="292" width="13" height="8" fill="url(#l1_52)"/>
<rect x="107" y="300" width="13" height="3" fill="url(#l1_55)"/>
<rect x="107" y="303" width="13" height="2" fill="url(#l1_59)"/>
<rect x="107" y="305" width="13" height="6" fill="url(#l1_60)"/>
<rect x="107" y="311" width="13" height="3" fill="url(#l2_1)"/>
<rect x="107" y="314" width="13" height="2" fill="url(#l2_5)"/>
<rect x="107" y="316" width="13" height="3" fill="url(#l2_7)"/>
<rect x="107" y="319" width="13" height="3" fill="url(#l2_9)"/>
<rect x="107" y="322" width="13" height="2" fill="url(#l2_11)"/>
<rect x="107" y="324" width="13" height="3" fill="url(#l2_14)"/>
<rect x="107" y="327" width="13" height="3" fill="url(#l2_16)"/>
<rect x="107" y="330" width="13" height="2" fill="url(#l2_18)"/>
<rect x="149" y="143" width="36" height="291" fill="#000"/>
<rect x="150" y="144" width="34" height="3" fill="#ff00ff"/>
<rect x="150" y="147" width="34" height="12" fill="url(#b1_1)"/>
<rect x="150" y="159" width="34" height="6" fill="url(#b1_2)"/>
<rect x="150" y="165" width="34" height="15" fill="url(#b1_4)"/>
<rect x="150" y="180" width="34" height="6" fill="url(#b1_7)"/>
<rect x="150" y="186" width="34" height="15" fill="url(#b1_9)"/>
<rect x="150" y="201" width="34" height="3" fill="url(#b1_11)"/>
<rect x="150" y="204" width="34" height="6" fill="url(#b1_14)"/>
<rect x="150" y="210" width="34" height="6" fill="url(#b1_15)"/>
<rect x="150" y="216" width="34" height="4" fill="url(#b1_18)"/>
<rect x="150" y="220" width="34" height="3" fill="url(#b1_20)"/>
<rect x="150" y="223" width="34" height="3" fill="url(#b1_22)"/>
<rect x="150" y="226" width="34" height="3" fill="url(#b1_23)"/>
<rect x="150" y="229" width="34" height="3" fill="url(#b1_25)"/>
<rect x="150" y="232" width="34" height="3" fill="url(#b1_27)"/>
<rect x="150" y="235" width="34" height="3" fill="url(#b1_30)"/>
<rect x="150" y="238" width="34" height="21" fill="url(#b1_32)"/>
<rect x="150" y="259" width="34" height="3" fill="url(#b1_33)"/>
<rect x="150" y="262" width="34" height="3" fill="url(#b1_43)"/>
<rect x="150" y="265" width="34" height="6" fill="url(#b1_44)"/>
<rect x="150" y="271" width="34" height="3" fill="url(#b1_47)"/>
<rect x="150" y="274" width="34" height="9" fill="url(#b1_52)"/>
<rect x="150" y="283" width="34" height="3" fill="url(#b1_55)"/>
<rect x="150" y="286" width="34" height="3" fill="url(#b1_59)"/>
<rect x="150" y="289" width="34" height="6" fill="url(#b1_60)"/>
<rect x="150" y="295" width="34" height="3" fill="url(#b2_1)"/>
<rect x="150" y="298" width="34" height="3" fill="url(#b2_5)"/>
<rect x="150" y="301" width="34" height="3" fill="url(#b2_7)"/>
<rect x="150" y="304" width="34" height="3" fill="url(#b2_9)"/>
<rect x="150" y="307" width="34" height="3" fill="url(#b2_11)"/>
<rect x="150" y="310" width="34" height="3" fill="url(#b2_14)"/>
<rect x="150" y="313" width="34" height="3" fill="url(#b2_16)"/>
<rect x="150" y="316" width="34" height="3" fill="url(#b2_18)"/>
<rect x="150" y="319" width="34" height="3" fill="url(#b2_20)"/>
<rect x="150" y="322" width="34" height="3" fill="url(#b2_22)"/>
<rect x="150" y="325" width="34" height="3" fill="url(#b2_25)"/>
<rect x="150" y="328" width="34" height="3" fill="url(#b2_27)"/>
<rect x="150" y="331" width="34" height="3" fill="url(#b2_29)"/>
<rect x="150" y="334" width="34" height="3" fill="url(#b2_30)"/>
<rect x="150" y="337" width="34" height="3" fill="url(#b2_31)"/>
<rect x="150" y="340" width="34" height="6" fill="url(#b2_32)"/>
<rect x="150" y="346" width="34" height="3" fill="url(#b2_33)"/>
<rect x="150" y="349" width="34" height="3" fill="url(#b2_35)"/>
<rect x="150" y="352" width="34" height="3" fill="url(#b2_36)"/>
<rect x="150" y="355" width="34" height="3" fill="url(#b2_40)"/>
<rect x="150" y="358" width="34" height="4" fill="url(#b2_43)"/>
<rect x="150" y="362" width="34" height="3" fill="url(#b2_46)"/>
<rect x="150" y="365" width="34" height="3" fill="url(#b2_49)"/>
<rect x="150" y="368" width="34" height="3" fill="url(#b2_51)"/>
<rect x="150" y="371" width="34" height="3" fill="url(#b2_54)"/>
<rect x="150" y="374" width="34" height="3" fill="url(#b2_56)"/>
<rect x="150" y="377" width="34" height="3" fill="url(#b2_58)"/>
<rect x="150" y="380" width="34" height="3" fill="url(#b2_60)"/>
<rect x="150" y="383" width="34" height="3" fill="url(#b2_61)"/>
<rect x="150" y="386" width="34" height="3" fill="url(#b2_62)"/>
<rect x="150" y="389" width="34" height="3" fill="url(#b2_63)"/>
<rect x="150" y="392" width="34" height="3" fill="#aa00aa"/>
<rect x="150" y="395" width="34" height="3" fill="#aa00aa"/>
<rect x="150" y="398" width="34" height="6" fill="url(#b3_1)"/>
<rect x="150" y="404" width="34" height="18" fill="url(#b3_5)"/>
<rect x="150" y="422" width="34" height="12" fill="url(#b3_9)"/>
<rect x="159" y="256" width="13" height="3" fill="url(#l1_32)"/>
<rect x="159" y="259" width="13" height="3" fill="url(#l1_33)"/>
<rect x="159" y="262" width="13" height="3" fill="url(#l1_43)"/>
<rect x="159" y="265" width="13" height="6" fill="url(#l1_44)"/>
<rect x="159" y="271" width="13" height="3" fill="url(#l1_47)"/>
<rect x="159" y="274" width="13" height="9" fill="url(#l1_52)"/>
<rect x="159" y="283" width="13" height="3" fill="url(#l1_55)"/>
<rect x="159" y="286" width="13" height="3" fill="url(#l1_59)"/>
<rect x="159" y="289" width="13" height="6" fill="url(#l1_60)"/>
<rect x="159" y="295" width="13" height="3" fill="url(#l2_1)"/>
<rect x="159" y="298" width="13" height="3" fill="url(#l2_5)"/>
<rect x="159" y="301" width="13" height="3" fill="url(#l2_7)"/>
<rect x="159" y="304" width="13" height="3" fill="url(#l2_9)"/>
<rect x="159" y="307" width="13" height="3" fill="url(#l2_11)"/>
<rect x="159" y="310" width="13" height="3" fill="url(#l2_14)"/>
<rect x="159" y="313" width="13" height="3" fill="url(#l2_16)"/>
<rect x="202" y="148" width="37" height="286" fill="#000"/>
<rect x="203" y="149" width="35" height="3" fill="#ff00ff"/>
<rect x="203" y="152" width="35" height="12" fill="url(#b1_1)"/>
<rect x="203" y="164" width="35" height="6" fill="url(#b1_2)"/>
<rect x="203" y="170" width="35" height="15" fill="url(#b1_4)"/>
<rect x="203" y="185" width="35" height="6" fill="url(#b1_7)"/>
<rect x="203" y="191" width="35" height="14" fill="url(#b1_9)"/>
<rect x="203" y="205" width="35" height="3" fill="url(#b1_11)"/>
<rect x="203" y="208" width="35" height="6" fill="url(#b1_14)"/>
<rect x="203" y="214" width="35" height="6" fill="url(#b1_15)"/>
<rect x="203" y="220" width="35" height="3" fill="url(#b1_18)"/>
<rect x="203" y="223" width="35" height="3" fill="url(#b1_20)"/>
<rect x="203" y="226" width="35" height="3" fill="url(#b1_22)"/>
<rect x="203" y="229" width="35" height="3" fill="url(#b1_23)"/>
<rect x="203" y="232" width="35" height="3" fill="url(#b1_25)"/>
<rect x="203" y="235" width="35" height="3" fill="url(#b1_27)"/>
<rect x="203" y="238" width="35" height="3" fill="url(#b1_30)"/>
<rect x="203" y="241" width="35" height="21" fill="url(#b1_32)"/>
<rect x="203" y="262" width="35" height="3" fill="url(#b1_33)"/>
<rect x="203" y="265" width="35" height="3" fill="url(#b1_43)"/>
<rect x="203" y="268" width="35" height="6" fill="url(#b1_44)"/>
<rect x="203" y="274" width="35" height="3" fill="url(#b1_47)"/>
<rect x="203" y="277" width="35" height="9" fill="url(#b1_52)"/>
<rect x="203" y="286" width="35" height="3" fill="url(#b1_55)"/>
<rect x="203" y="289" width="35" height="2" fill="url(#b1_59)"/>
<rect x="203" y="291" width="35" height="6" fill="url(#b1_60)"/>
<rect x="203" y="297" width="35" height="3" fill="url(#b2_1)"/>
<rect x="203" y="300" width="35" height="3" fill="url(#b2_5)"/>
<rect x="203" y="303" width="35" height="3" fill="url(#b2_7)"/>
<rect x="203" y="306" width="35" height="3" fill="url(#b2_9)"/>
<rect x="203" y="309" width="35" height="3" fill="url(#b2_11)"/>
<rect x="203" y="312" width="35" height="3" fill="url(#b2_14)"/>
<rect x="203" y="315" width="35" height="3" fill="url(#b2_16)"/>
<rect x="203" y="318" width="35" height="3" fill="url(#b2_18)"/>
<rect x="203" y="321" width="35" height="3" fill="url(#b2_20)"/>
<rect x="203" y="324" width="35" height="3" fill="url(#b2_22)"/>
<rect x="203" y="327" width="35" height="3" fill="url(#b2_25)"/>
<rect x="203" y="330" width="35" height="3" fill="url(#b2_27)"/>
<rect x="203" y="333" width="35" height="3" fill="url(#b2_29)"/>
<rect x="203" y="336" width="35" height="3" fill="url(#b2_30)"/>
<rect x="203" y="339" width="35" height="3" fill="url(#b2_31)"/>
<rect x="203" y="342" width="35" height="6" fill="url(#b2_32)"/>
<rect x="203" y="348" width="35" height="3" fill="url(#b2_33)"/>
<rect x="203" y="351" width="35" height="3" fill="url(#b2_35)"/>
<rect x="203" y="354" width="35" height="3" fill="url(#b2_36)"/>
<rect x="203" y="357" width="35" height="3" fill="url(#b2_40)"/>
<rect x="203" y="360" width="35" height="3" fill="url(#b2_43)"/>
<rect x="203" y="363" width="35" height="3" fill="url(#b2_46)"/>
<rect x="203" y="366" width="35" height="3" fill="url(#b2_49)"/>
<rect x="203" y="369" width="35" height="3" fill="url(#b2_51)"/>
<rect x="203" y="372" width="35" height="3" fill="url(#b2_54)"/>
<rect x="203" y="375" width="35" height="3" fill="url(#b2_56)"/>
<rect x="203" y="378" width="35" height="3" fill="url(#b2_58)"/>
<rect x="203" y="381" width="35" height="3" fill="url(#b2_60)"/>
<rect x="203" y="384" width="35" height="3" fill="url(#b2_61)"/>
<rect x="203" y="387" width="35" height="2" fill="url(#b2_62)"/>
<rect x="203" y="389" width="35" height="3" fill="url(#b2_63)"/>
<rect x="203" y="392" width="35" height="3" fill="#aa00aa"/>
<rect x="203" y="395" width="35" height="3" fill="#aa00aa"/>
<rect x="203" y="398" width="35" height="6" fill="url(#b3_1)"/>
<rect x="203" y="404" width="35" height="18" fill="url(#b3_5)"/>
<rect x="203" y="422" width="35" height="12" fill="url(#b3_9)"/>
<rect x="213" y="259" width="13" height="3" fill="url(#l1_32)"/>
<rect x="213" y="262" width="13" height="3" fill="url(#l1_33)"/>
<rect x="213" y="265" width="13" height="3" fill="url(#l1_43)"/>
<rect x="213" y="268" width="13" height="6" fill="url(#l1_44)"/>
<rect x="213" y="274" width="13" height="3" fill="url(#l1_47)"/>
<rect x="213" y="277" width="13" height="9" fill="url(#l1_52)"/>
<rect x="213" y="286" width="13" height="3" fill="url(#l1_55)"/>
<rect x="213" y="289" width="13" height="2" fill="url(#l1_59)"/>
<rect x="213" y="291" width="13" height="6" fill="url(#l1_60)"/>
<rect x="213" y="297" width="13" height="3" fill="url(#l2_1)"/>
<rect x="213" y="300" width="13" height="3" fill="url(#l2_5)"/>
<rect x="213" y="303" width="13" height="3" fill="url(#l2_7)"/>
<rect x="213" y="306" width="13" height="3" fill="url(#l2_9)"/>
<rect x="213" y="309" width="13" height="3" fill="url(#l2_11)"/>
<rect x="213" y="312" width="13" height="3" fill="url(#l2_14)"/>
<rect x="213" y="315" width="13" height="3" fill="url(#l2_16)"/>
<rect x="213" y="318" width="13" height="1" fill="url(#l2_18)"/>
<rect x="255" y="160" width="37" height="274" fill="#000"/>
<rect x="256" y="161" width="35" height="3" fill="#ff00ff"/>
<rect x="256" y="164" width="35" height="11" fill="url(#b1_1)"/>
<rect x="256" y="175" width="35" height="6" fill="url(#b1_2)"/>
<rect x="256" y="181" width="35" height="14" fill="url(#b1_4)"/>
<rect x="256" y="195" width="35" height="6" fill="url(#b1_7)"/>
<rect x="256" y="201" width="35" height="14" fill="url(#b1_9)"/>
<rect x="256" y="215" width="35" height="3" fill="url(#b1_11)"/>
<rect x="256" y="218" width="35" height="6" fill="url(#b1_14)"/>
<rect x="256" y="224" width="35" height="5" fill="url(#b1_15)"/>
<rect x="256" y="229" width="35" height="3" fill="url(#b1_18)"/>
<rect x="256" y="232" width="35" height="3" fill="url(#b1_20)"/>
<rect x="256" y="235" width="35" height="3" fill="url(#b1_22)"/>
<rect x="256" y="238" width="35" height="3" fill="url(#b1_23)"/>
<rect x="256" y="241" width="35" height="2" fill="url(#b1_25)"/>
<rect x="256" y="243" width="35" height="3" fill="url(#b1_27)"/>
<rect x="256" y="246" width="35" height="3" fill="url(#b1_30)"/>
<rect x="256" y="249" width="35" height="20" fill="url(#b1_32)"/>
<rect x="256" y="269" width="35" height="3" fill="url(#b1_33)"/>
<rect x="256" y="272" width="35" height="3" fill="url(#b1_43)"/>
<rect x="256" y="275" width="35" height="5" fill="url(#b1_44)"/>
<rect x="256" y="280" width="35" height="3" fill="url(#b1_47)"/>
<rect x="256" y="283" width="35" height="9" fill="url(#b1_52)"/>
<rect x="256" y="292" width="35" height="3" fill="url(#b1_55)"/>
<rect x="256" y="295" width="35" height="2" fill="url(#b1_59)"/>
<rect x="256" y="297" width="35" height="6" fill="url(#b1_60)"/>
<rect x="256" y="303" width="35" height="3" fill="url(#b2_1)"/>
<rect x="256" y="306" width="35" height="3" fill="url(#b2_5)"/>
<rect x="256" y="309" width="35" height="3" fill="url(#b2_7)"/>
<rect x="256" y="312" width="35" height="3" fill="url(#b2_9)"/>
<rect x="256" y="315" width="35" height="2" fill="url(#b2_11)"/>
<rect x="256" y="317" width="35" height="3" fill="url(#b2_14)"/>
<rect x="256" y="320" width="35" height="3" fill="url(#b2_16)"/>
<rect x="256" y="323" width="35" height="3" fill="url(#b2_18)"/>
<rect x="256" y="326" width="35" height="3" fill="url(#b2_20)"/>
<rect x="256" y="329" width="35" height="3" fill="url(#b2_22)"/>
<rect x="256" y="332" width="35" height="2" fill="url(#b2_25)"/>
<rect x="256" y="334" width="35" height="3" fill="url(#b2_27)"/>
<rect x="256" y="337" width="35" height="3" fill="url(#b2_29)"/>
<rect x="256" y="340" width="35" height="3" fill="url(#b2_30)"/>
<rect x="256" y="343" width="35" height="3" fill="url(#b2_31)"/>
<rect x="256" y="346" width="35" height="6" fill="url(#b2_32)"/>
<rect x="256" y="352" width="35" height="2" fill="url(#b2_33)"/>
<rect x="256" y="354" width="35" height="3" fill="url(#b2_35)"/>
<rect x="256" y="357" width="35" height="3" fill="url(#b2_36)"/>
<rect x="256" y="360" width="35" height="3" fill="url(#b2_40)"/>
<rect x="256" y="363" width="35" height="3" fill="url(#b2_43)"/>
<rect x="256" y="366" width="35" height="3" fill="url(#b2_46)"/>
<rect x="256" y="369" width="35" height="2" fill="url(#b2_49)"/>
<rect x="256" y="371" width="35" height="3" fill="url(#b2_51)"/>
<rect x="256" y="374" width="35" height="3" fill="url(#b2_54)"/>
<rect x="256" y="377" width="35" height="3" fill="url(#b2_56)"/>
<rect x="256" y="380" width="35" height="3" fill="url(#b2_58)"/>
<rect x="256" y="383" width="35" height="3" fill="url(#b2_60)"/>
<rect x="256" y="386" width="35" height="3" fill="url(#b2_61)"/>
<rect x="256" y="389" width="35" height="2" fill="url(#b2_62)"/>
<rect x="256" y="391" width="35" height="3" fill="url(#b2_63)"/>
<rect x="256" y="394" width="35" height="3" fill="#aa00aa"/>
<rect x="256" y="397" width="35" height="3" fill="#aa00aa"/>
<rect x="256" y="400" width="35" height="6" fill="url(#b3_1)"/>
<rect x="256" y="406" width="35" height="17" fill="url(#b3_5)"/>
<rect x="256" y="423" width="35" height="11" fill="url(#b3_9)"/>
<rect x="266" y="266" width="13" height="3" fill="url(#l1_32)"/>
<rect x="266" y="269" width="13" height="3" fill="url(#l1_33)"/>
<rect x="266" y="272" width="13" height="3" fill="url(#l1_43)"/>
<rect x="266" y="275" width="13" height="5" fill="url(#l1_44)"/>
<rect x="266" y="280" width="13" height="3" fill="url(#l1_47)"/>
<rect x="266" y="283" width="13" height="9" fill="url(#l1_52)"/>
<rect x="266" y="292" width="13" height="3" fill="url(#l1_55)"/>
<rect x="266" y="295" width="13" height="2" fill="url(#l1_59)"/>
<rect x="266" y="297" width="13" height="6" fill="url(#l1_60)"/>
<rect x="266" y="303" width="13" height="3" fill="url(#l2_1)"/>
<rect x="266" y="306" width="13" height="3" fill="url(#l2_5)"/>
<rect x="266" y="309" width="13" height="3" fill="url(#l2_7)"/>
<rect x="266" y="312" width="13" height="3" fill="url(#l2_9)"/>
<rect x="266" y="315" width="13" height="2" fill="url(#l2_11)"/>
<rect x="266" y="317" width="13" height="3" fill="url(#l2_14)"/>
<rect x="266" y="320" width="13" height="3" fill="url(#l2_16)"/>
<rect x="266" y="323" width="13" height="2" fill="url(#l2_18)"/>
<rect x="308" y="156" width="37" height="278" fill="#000"/>
<rect x="309" y="157" width="35" height="3" fill="#ff00ff"/>
<rect x="309" y="160" width="35" height="11" fill="url(#b1_1)"/>
<rect x="309" y="171" width="35" height="6" fill="url(#b1_2)"/>
<rect x="309" y="177" width="35" height="15" fill="url(#b1_4)"/>
<rect x="309" y="192" width="35" height="5" fill="url(#b1_7)"/>
<rect x="309" y="197" width="35" height="15" fill="url(#b1_9)"/>
<rect x="309" y="212" width="35" height="3" fill="url(#b1_11)"/>
<rect x="309" y="215" width="35" height="5" fill="url(#b1_14)"/>
<rect x="309" y="220" width="35" height="6" fill="url(#b1_15)"/>
<rect x="309" y="226" width="35" height="3" fill="url(#b1_18)"/>
<rect x="309" y="229" width="35" height="3" fill="url(#b1_20)"/>
<rect x="309" y="232" width="35" height="3" fill="url(#b1_22)"/>
<rect x="309" y="235" width="35" height="3" fill="url(#b1_23)"/>
<rect x="309" y="238" width="35" height="3" fill="url(#b1_25)"/>
<rect x="309" y="241" width="35" height="3" fill="url(#b1_27)"/>
<rect x="309" y="244" width="35" height="2" fill="url(#b1_30)"/>
<rect x="309" y="246" width="35" height="21" fill="url(#b1_32)"/>
<rect x="309" y="267" width="35" height="3" fill="url(#b1_33)"/>
<rect x="309" y="270" width="35" height="2" fill="url(#b1_43)"/>
<rect x="309" y="272" width="35" height="6" fill="url(#b1_44)"/>
<rect x="309" y="278" width="35" height="3" fill="url(#b1_47)"/>
<rect x="309" y="281" width="35" height="9" fill="url(#b1_52)"/>
<rect x="309" y="290" width="35" height="3" fill="url(#b1_55)"/>
<rect x="309" y="293" width="35" height="2" fill="url(#b1_59)"/>
<rect x="309" y="295" width="35" height="6" fill="url(#b1_60)"/>
<rect x="309" y="301" width="35" height="3" fill="url(#b2_1)"/>
<rect x="309" y="304" width="35" height="3" fill="url(#b2_5)"/>
<rect x="309" y="307" width="35" height="3" fill="url(#b2_7)"/>
<rect x="309" y="310" width="35" height="3" fill="url(#b2_9)"/>
<rect x="309" y="313" width="35" height="3" fill="url(#b2_11)"/>
<rect x="309" y="316" width="35" height="3" fill="url(#b2_14)"/>
<rect x="309" y="319" width="35" height="2" fill="url(#b2_16)"/>
<rect x="309" y="321" width="35" height="3" fill="url(#b2_18)"/>
<rect x="309" y="324" width="35" height="3" fill="url(#b2_20)"/>
<rect x="309" y="327" width="35" height="3" fill="url(#b2_22)"/>
<rect x="309" y="330" width="35" height="3" fill="url(#b2_25)"/>
<rect x="309" y="333" width="35" height="3" fill="url(#b2_27)"/>
<rect x="309" y="336" width="35" height="3" fill="url(#b2_29)"/>
<rect x="309" y="339" width="35" height="3" fill="url(#b2_30)"/>
<rect x="309" y="342" width="35" height="3" fill="url(#b2_31)"/>
<rect x="309" y="345" width="35" height="5" fill="url(#b2_32)"/>
<rect x="309" y="350" width="35" height="3" fill="url(#b2_33)"/>
<rect x="309" y="353" width="35" height="3" fill="url(#b2_35)"/>
<rect x="309" y="356" width="35" height="3" fill="url(#b2_36)"/>
<rect x="309" y="359" width="35" height="3" fill="url(#b2_40)"/>
<rect x="309" y="362" width="35" height="3" fill="url(#b2_43)"/>
<rect x="309" y="365" width="35" height="3" fill="url(#b2_46)"/>
<rect x="309" y="368" width="35" height="3" fill="url(#b2_49)"/>
<rect x="309" y="371" width="35" height="2" fill="url(#b2_51)"/>
<rect x="309" y="373" width="35" height="3" fill="url(#b2_54)"/>
<rect x="309" y="376" width="35" height="3" fill="url(#b2_56)"/>
<rect x="309" y="379" width="35" height="3" fill="url(#b2_58)"/>
<rect x="309" y="382" width="35" height="3" fill="url(#b2_60)"/>
<rect x="309" y="385" width="35" height="3" fill="url(#b2_61)"/>
<rect x="309" y="388" width="35" height="3" fill="url(#b2_62)"/>
<rect x="309" y="391" width="35" height="3" fill="url(#b2_63)"/>
<rect x="309" y="394" width="35" height="2" fill="#aa00aa"/>
<rect x="309" y="396" width="35" height="3" fill="#aa00aa"/>
<rect x="309" y="399" width="35" height="6" fill="url(#b3_1)"/>
<rect x="309" y="405" width="35" height="17" fill="url(#b3_5)"/>
<rect x="309" y="422" width="35" height="12" fill="url(#b3_9)"/>
<rect x="319" y="264" width="14" height="3" fill="url(#l1_32)"/>
<rect x="319" y="267" width="14" height="3" fill="url(#l1_33)"/>
<rect x="319" y="270" width="14" height="2" fill="url(#l1_43)"/>
<rect x="319" y="272" width="14" height="6" fill="url(#l1_44)"/>
<rect x="319" y="278" width="14" height="3" fill="url(#l1_47)"/>
<rect x="319" y="281" width="14" height="9" fill="url(#l1_52)"/>
<rect x="319" y="290" width="14" height="3" fill="url(#l1_55)"/>
<rect x="319" y="293" width="14" height="2" fill="url(#l1_59)"/>
<rect x="319" y="295" width="14" height="6" fill="url(#l1_60)"/>
<rect x="319" y="301" width="14" height="3" fill="url(#l2_1)"/>
<rect x="319" y="304" width="14" height="3" fill="url(#l2_5)"/>
<rect x="319" y="307" width="14" height="3" fill="url(#l2_7)"/>
<rect x="319" y="310" width="14" height="3" fill="url(#l2_9)"/>
<rect x="319" y="313" width="14" height="3" fill="url(#l2_11)"/>
<rect x="319" y="316" width="14" height="3" fill="url(#l2_14)"/>
<rect x="319" y="319" width="14" height="2" fill="url(#l2_16)"/>
<rect x="319" y="321" width="14" height="2" fill="url(#l2_18)"/>
<rect x="361" y="165" width="38" height="269" fill="#000"/>
<rect x="362" y="166" width="36" height="3" fill="#ff00ff"/>
<rect x="362" y="169" width="36" height="11" fill="url(#b1_1)"/>
<rect x="362" y="180" width="36" height="6" fill="url(#b1_2)"/>
<rect x="362" y="186" width="36" height="14" fill="url(#b1_4)"/>
<rect x="362" y="200" width="36" height="5" fill="url(#b1_7)"/>
<rect x="362" y="205" width="36" height="14" fill="url(#b1_9)"/>
<rect x="362" y="219" width="36" height="3" fill="url(#b1_11)"/>
<rect x="362" y="222" width="36" height="5" fill="url(#b1_14)"/>
<rect x="362" y="227" width="36" height="6" fill="url(#b1_15)"/>
<rect x="362" y="233" width="36" height="3" fill="url(#b1_18)"/>
<rect x="362" y="236" width="36" height="3" fill="url(#b1_20)"/>
<rect x="362" y="239" width="36" height="2" fill="url(#b1_22)"/>
<rect x="362" y="241" width="36" height="3" fill="url(#b1_23)"/>
<rect x="362" y="244" width="36" height="3" fill="url(#b1_25)"/>
<rect x="362" y="247" width="36" height="3" fill="url(#b1_27)"/>
<rect x="362" y="250" width="36" height="3" fill="url(#b1_30)"/>
<rect x="362" y="253" width="36" height="19" fill="url(#b1_32)"/>
<rect x="362" y="272" width="36" height="3" fill="url(#b1_33)"/>
<rect x="362" y="275" width="36" height="3" fill="url(#b1_43)"/>
<rect x="362" y="278" width="36" height="5" fill="url(#b1_44)"/>
<rect x="362" y="283" width="36" height="3" fill="url(#b1_47)"/>
<rect x="362" y="286" width="36" height="8" fill="url(#b1_52)"/>
<rect x="362" y="294" width="36" height="3" fill="url(#b1_55)"/>
<rect x="362" y="297" width="36" height="3" fill="url(#b1_59)"/>
<rect x="362" y="300" width="36" height="6" fill="url(#b1_60)"/>
<rect x="362" y="306" width="36" height="2" fill="url(#b2_1)"/>
<rect x="362" y="308" width="36" height="3" fill="url(#b2_5)"/>
<rect x="362" y="311" width="36" height="3" fill="url(#b2_7)"/>
<rect x="362" y="314" width="36" height="3" fill="url(#b2_9)"/>
<rect x="362" y="317" width="36" height="3" fill="url(#b2_11)"/>
<rect x="362" y="320" width="36" height="2" fill="url(#b2_14)"/>
<rect x="362" y="322" width="36" height="3" fill="url(#b2_16)"/>
<rect x="362" y="325" width="36" height="3" fill="url(#b2_18)"/>
<rect x="362" y="328" width="36" height="3" fill="url(#b2_20)"/>
<rect x="362" y="331" width="36" height="3" fill="url(#b2_22)"/>
<rect x="362" y="334" width="36" height="2" fill="url(#b2_25)"/>
<rect x="362" y="336" width="36" height="3" fill="url(#b2_27)"/>
<rect x="362" y="339" width="36" height="3" fill="url(#b2_29)"/>
<rect x="362" y="342" width="36" height="3" fill="url(#b2_30)"/>
<rect x="362" y="345" width="36" height="2" fill="url(#b2_31)"/>
<rect x="362" y="347" width="36" height="6" fill="url(#b2_32)"/>
<rect x="362" y="353" width="36" height="3" fill="url(#b2_33)"/>
<rect x="362" y="356" width="36" height="3" fill="url(#b2_35)"/>
<rect x="362" y="359" width="36" height="2" fill="url(#b2_36)"/>
<rect x="362" y="361" width="36" height="3" fill="url(#b2_40)"/>
<rect x="362" y="364" width="36" height="3" fill="url(#b2_43)"/>
<rect x="362" y="367" width="36" height="3" fill="url(#b2_46)"/>
<rect x="362" y="370" width="36" height="3" fill="url(#b2_49)"/>
<rect x="362" y="373" width="36" height="2" fill="url(#b2_51)"/>
<rect x="362" y="375" width="36" height="3" fill="url(#b2_54)"/>
<rect x="362" y="378" width="36" height="3" fill="url(#b2_56)"/>
<rect x="362" y="381" width="36" height="3" fill="url(#b2_58)"/>
<rect x="362" y="384" width="36" height="3" fill="url(#b2_60)"/>
<rect x="362" y="387" width="36" height="2" fill="url(#b2_61)"/>
<rect x="362" y="389" width="36" height="3" fill="url(#b2_62)"/>
<rect x="362" y="392" width="36" height="3" fill="url(#b2_63)"/>
<rect x="362" y="395" width="36" height="3" fill="#aa00aa"/>
<rect x="362" y="398" width="36" height="2" fill="#aa00aa"/>
<rect x="362" y="400" width="36" height="6" fill="url(#b3_1)"/>
<rect x="362" y="406" width="36" height="17" fill="url(#b3_5)"/>
<rect x="362" y="423" width="36" height="11" fill="url(#b3_9)"/>
<rect x="373" y="268" width="13" height="4" fill="url(#l1_32)"/>
<rect x="373" y="272" width="13" height="3" fill="url(#l1_33)"/>
<rect x="373" y="275" width="13" height="3" fill="url(#l1_43)"/>
<rect x="373" y="278" width="13" height="5" fill="url(#l1_44)"/>
<rect x="373" y="283" width="13" height="3" fill="url(#l1_47)"/>
<rect x="373" y="286" width="13" height="8" fill="url(#l1_52)"/>
<rect x="373" y="294" width="13" height="3" fill="url(#l1_55)"/>
<rect x="373" y="297" width="13" height="3" fill="url(#l1_59)"/>
<rect x="373" y="300" width="13" height="6" fill="url(#l1_60)"/>
<rect x="373" y="306" width="13" height="2" fill="url(#l2_1)"/>
<rect x="373" y="308" width="13" height="3" fill="url(#l2_5)"/>
<rect x="373" y="311" width="13" height="3" fill="url(#l2_7)"/>
<rect x="373" y="314" width="13" height="3" fill="url(#l2_9)"/>
<rect x="373" y="317" width="13" height="3" fill="url(#l2_11)"/>
<rect x="373" y="320" width="13" height="2" fill="url(#l2_14)"/>
<rect x="373" y="322" width="13" height="3" fill="url(#l2_16)"/>
<rect x="373" y="325" width="13" height="2" fill="url(#l2_18)"/>
<rect x="416" y="144" width="36" height="290" fill="#000"/>
<rect x="417" y="145" width="34" height="3" fill="#ff00ff"/>
<rect x="417" y="148" width="34" height="12" fill="url(#b1_1)"/>
<rect x="417" y="160" width="34" height="6" fill="url(#b1_2)"/>
<rect x="417" y="166" width="34" height="15" fill="url(#b1_4)"/>
<rect x="417" y="181" width="34" height="6" fill="url(#b1_7)"/>
<rect x="417" y="187" width="34" height="15" fill="url(#b1_9)"/>
<rect x="417" y="202" width="34" height="3" fill="url(#b1_11)"/>
<rect x="417" y="205" width="34" height="6" fill="url(#b1_14)"/>
<rect x="417" y="211" width="34" height="6" fill="url(#b1_15)"/>
<rect x="417" y="217" width="34" height="3" fill="url(#b1_18)"/>
<rect x="417" y="220" width="34" height="3" fill="url(#b1_20)"/>
<rect x="417" y="223" width="34" height="3" fill="url(#b1_22)"/>
<rect x="417" y="226" width="34" height="3" fill="url(#b1_23)"/>
<rect x="417" y="229" width="34" height="3" fill="url(#b1_25)"/>
<rect x="417" y="232" width="34" height="3" fill="url(#b1_27)"/>
<rect x="417" y="235" width="34" height="3" fill="url(#b1_30)"/>
<rect x="417" y="238" width="34" height="21" fill="url(#b1_32)"/>
<rect x="417" y="259" width="34" height="3" fill="url(#b1_33)"/>
<rect x="417" y="262" width="34" height="3" fill="url(#b1_43)"/>
<rect x="417" y="265" width="34" height="6" fill="url(#b1_44)"/>
<rect x="417" y="271" width="34" height="3" fill="url(#b1_47)"/>
<rect x="417" y="274" width="34" height="9" fill="url(#b1_52)"/>
<rect x="417" y="283" width="34" height="3" fill="url(#b1_55)"/>
<rect x="417" y="286" width="34" height="3" fill="url(#b1_59)"/>
<rect x="417" y="289" width="34" height="7" fill="url(#b1_60)"/>
<rect x="417" y="296" width="34" height="3" fill="url(#b2_1)"/>
<rect x="417" y="299" width="34" height="3" fill="url(#b2_5)"/>
<rect x="417" y="302" width="34" height="3" fill="url(#b2_7)"/>
<rect x="417" y="305" width="34" height="3" fill="url(#b2_9)"/>
<rect x="417" y="308" width="34" height="3" fill="url(#b2_11)"/>
<rect x="417" y="311" width="34" height="3" fill="url(#b2_14)"/>
<rect x="417" y="314" width="34" height="3" fill="url(#b2_16)"/>
<rect x="417" y="317" width="34" height="3" fill="url(#b2_18)"/>
<rect x="417" y="320" width="34" height="3" fill="url(#b2_20)"/>
<rect x="417" y="323" width="34" height="3" fill="url(#b2_22)"/>
<rect x="417" y="326" width="34" height="3" fill="url(#b2_25)"/>
<rect x="417" y="329" width="34" height="3" fill="url(#b2_27)"/>
<rect x="417" y="332" width="34" height="3" fill="url(#b2_29)"/>
<rect x="417" y="335" width="34" height="3" fill="url(#b2_30)"/>
<rect x="417" y="338" width="34" height="3" fill="url(#b2_31)"/>
<rect x="417" y="341" width="34" height="6" fill="url(#b2_32)"/>
<rect x="417" y="347" width="34" height="3" fill="url(#b2_33)"/>
<rect x="417" y="350" width="34" height="3" fill="url(#b2_35)"/>
<rect x="417" y="353" width="34" height="3" fill="url(#b2_36)"/>
<rect x="417" y="356" width="34" height="3" fill="url(#b2_40)"/>
<rect x="417" y="359" width="34" height="3" fill="url(#b2_43)"/>
<rect x="417" y="362" width="34" height="3" fill="url(#b2_46)"/>
<rect x="417" y="365" width="34" height="3" fill="url(#b2_49)"/>
<rect x="417" y="368" width="34" height="3" fill="url(#b2_51)"/>
<rect x="417" y="371" width="34" height="3" fill="url(#b2_54)"/>
<rect x="417" y="374" width="34" height="3" fill="url(#b2_56)"/>
<rect x="417" y="377" width="34" height="3" fill="url(#b2_58)"/>
<rect x="417" y="380" width="34" height="3" fill="url(#b2_60)"/>
<rect x="417" y="383" width="34" height="3" fill="url(#b2_61)"/>
<rect x="417" y="386" width="34" height="3" fill="url(#b2_62)"/>
<rect x="417" y="389" width="34" height="3" fill="url(#b2_63)"/>
<rect x="417" y="392" width="34" height="3" fill="#aa00aa"/>
<rect x="417" y="395" width="34" height="3" fill="#aa00aa"/>
<rect x="417" y="398" width="34" height="6" fill="url(#b3_1)"/>
<rect x="417" y="404" width="34" height="18" fill="url(#b3_5)"/>
<rect x="417" y="422" width="34" height="12" fill="url(#b3_9)"/>
<rect x="426" y="257" width="13" height="2" fill="url(#l1_32)"/>
<rect x="426" y="259" width="13" height="3" fill="url(#l1_33)"/>
<rect x="426" y="262" width="13" height="3" fill="url(#l1_43)"/>
<rect x="426" y="265" width="13" height="6" fill="url(#l1_44)"/>
<rect x="426" y="271" width="13" height="3" fill="url(#l1_47)"/>
<rect x="426" y="274" width="13" height="9" fill="url(#l1_52)"/>
<rect x="426" y="283" width="13" height="3" fill="url(#l1_55)"/>
<rect x="426" y="286" width="13" height="3" fill="url(#l1_59)"/>
<rect x="426" y="289" width="13" height="7" fill="url(#l1_60)"/>
<rect x="426" y="296" width="13" height="3" fill="url(#l2_1)"/>
<rect x="426" y="299" width="13" height="3" fill="url(#l2_5)"/>
<rect x="426" y="302" width="13" height="3" fill="url(#l2_7)"/>
<rect x="426" y="305" width="13" height="3" fill="url(#l2_9)"/>
<rect x="426" y="308" width="13" height="3" fill="url(#l2_11)"/>
<rect x="426" y="311" width="13" height="3" fill="url(#l2_14)"/>
<rect x="426" y="314" width="13" height="3" fill="url(#l2_16)"/>
<rect x="469" y="140" width="36" height="294" fill="#000"/>
<rect x="470" y="141" width="34" height="3" fill="#ff00ff"/>
<rect x="470" y="144" width="34" height="12" fill="url(#b1_1)"/>
<rect x="470" y="156" width="34" height="6" fill="url(#b1_2)"/>
<rect x="470" y="162" width="34" height="16" fill="url(#b1_4)"/>
<rect x="470" y="178" width="34" height="6" fill="url(#b1_7)"/>
<rect x="470" y="184" width="34" height="15" fill="url(#b1_9)"/>
<rect x="470" y="199" width="34" height="3" fill="url(#b1_11)"/>
<rect x="470" y="202" width="34" height="6" fill="url(#b1_14)"/>
<rect x="470" y="208" width="34" height="6" fill="url(#b1_15)"/>
<rect x="470" y="214" width="34" height="3" fill="url(#b1_18)"/>
<rect x="470" y="217" width="34" height="3" fill="url(#b1_20)"/>
<rect x="470" y="220" width="34" height="3" fill="url(#b1_22)"/>
<rect x="470" y="223" width="34" height="3" fill="url(#b1_23)"/>
<rect x="470" y="226" width="34" height="4" fill="url(#b1_25)"/>
<rect x="470" y="230" width="34" height="3" fill="url(#b1_27)"/>
<rect x="470" y="233" width="34" height="3" fill="url(#b1_30)"/>
<rect x="470" y="236" width="34" height="21" fill="url(#b1_32)"/>
<rect x="470" y="257" width="34" height="3" fill="url(#b1_33)"/>
<rect x="470" y="260" width="34" height="3" fill="url(#b1_43)"/>
<rect x="470" y="263" width="34" height="6" fill="url(#b1_44)"/>
<rect x="470" y="269" width="34" height="3" fill="url(#b1_47)"/>
<rect x="470" y="272" width="34" height="9" fill="url(#b1_52)"/>
<rect x="470" y="281" width="34" height="3" fill="url(#b1_55)"/>
<rect x="470" y="284" width="34" height="3" fill="url(#b1_59)"/>
<rect x="470" y="287" width="34" height="7" fill="url(#b1_60)"/>
<rect x="470" y="294" width="34" height="3" fill="url(#b2_1)"/>
<rect x="470" y="297" width="34" height="3" fill="url(#b2_5)"/>
<rect x="470" y="300" width="34" height="3" fill="url(#b2_7)"/>
<rect x="470" y="303" width="34" height="3" fill="url(#b2_9)"/>
<rect x="470" y="306" width="34" height="3" fill="url(#b2_11)"/>
<rect x="470" y="309" width="34" height="3" fill="url(#b2_14)"/>
<rect x="470" y="312" width="34" height="3" fill="url(#b2_16)"/>
<rect x="470" y="315" width="34" height="3" fill="url(#b2_18)"/>
<rect x="470" y="318" width="34" height="3" fill="url(#b2_20)"/>
<rect x="470" y="321" width="34" height="3" fill="url(#b2_22)"/>
<rect x="470" y="324" width="34" height="3" fill="url(#b2_25)"/>
<rect x="470" y="327" width="34" height="3" fill="url(#b2_27)"/>
<rect x="470" y="330" width="34" height="3" fill="url(#b2_29)"/>
<rect x="470" y="333" width="34" height="3" fill="url(#b2_30)"/>
<rect x="470" y="336" width="34" height="3" fill="url(#b2_31)"/>
<rect x="470" y="339" width="34" height="6" fill="url(#b2_32)"/>
<rect x="470" y="345" width="34" height="4" fill="url(#b2_33)"/>
<rect x="470" y="349" width="34" height="3" fill="url(#b2_35)"/>
<rect x="470" y="352" width="34" height="3" fill="url(#b2_36)"/>
<rect x="470" y="355" width="34" height="3" fill="url(#b2_40)"/>
<rect x="470" y="358" width="34" height="3" fill="url(#b2_43)"/>
<rect x="470" y="361" width="34" height="3" fill="url(#b2_46)"/>
<rect x="470" y="364" width="34" height="3" fill="url(#b2_49)"/>
<rect x="470" y="367" width="34" height="3" fill="url(#b2_51)"/>
<rect x="470" y="370" width="34" height="3" fill="url(#b2_54)"/>
<rect x="470" y="373" width="34" height="3" fill="url(#b2_56)"/>
<rect x="470" y="376" width="34" height="3" fill="url(#b2_58)"/>
<rect x="470" y="379" width="34" height="3" fill="url(#b2_60)"/>
<rect x="470" y="382" width="34" height="3" fill="url(#b2_61)"/>
<rect x="470" y="385" width="34" height="3" fill="url(#b2_62)"/>
<rect x="470" y="388" width="34" height="3" fill="url(#b2_63)"/>
<rect x="470" y="391" width="34" height="3" fill="#aa00aa"/>
<rect x="470" y="394" width="34" height="3" fill="#aa00aa"/>
<rect x="470" y="397" width="34" height="6" fill="url(#b3_1)"/>
<rect x="470" y="403" width="34" height="19" fill="url(#b3_5)"/>
<rect x="470" y="422" width="34" height="12" fill="url(#b3_9)"/>
<rect x="479" y="251" width="14" height="6" fill="url(#l1_32)"/>
<rect x="479" y="257" width="14" height="3" fill="url(#l1_33)"/>
<rect x="479" y="260" width="14" height="3" fill="url(#l1_43)"/>
<rect x="479" y="263" width="14" height="6" fill="url(#l1_44)"/>
<rect x="479" y="269" width="14" height="3" fill="url(#l1_47)"/>
<rect x="479" y="272" width="14" height="9" fill="url(#l1_52)"/>
<rect x="479" y="281" width="14" height="3" fill="url(#l1_55)"/>
<rect x="479" y="284" width="14" height="3" fill="url(#l1_59)"/>
<rect x="479" y="287" width="14" height="7" fill="url(#l1_60)"/>
<rect x="479" y="294" width="14" height="3" fill="url(#l2_1)"/>
<rect x="479" y="297" width="14" height="3" fill="url(#l2_5)"/>
<rect x="479" y="300" width="14" height="3" fill="url(#l2_7)"/>
<rect x="479" y="303" width="14" height="3" fill="url(#l2_9)"/>
<rect x="479" y="306" width="14" height="3" fill="url(#l2_11)"/>
<rect x="479" y="309" width="14" height="3" fill="url(#l2_14)"/>
<rect x="479" y="312" width="14" height="3" fill="url(#l2_16)"/>
<rect x="479" y="315" width="14" height="3" fill="url(#l2_18)"/>
<rect x="479" y="318" width="14" height="1" fill="url(#l2_20)"/>
<rect x="522" y="115" width="36" height="319" fill="#000"/>
<rect x="523" y="116" width="34" height="3" fill="#ff00ff"/>
<rect x="523" y="119" width="34" height="14" fill="url(#b1_1)"/>
<rect x="523" y="133" width="34" height="6" fill="url(#b1_2)"/>
<rect x="523" y="139" width="34" height="17" fill="url(#b1_4)"/>
<rect x="523" y="156" width="34" height="6" fill="url(#b1_7)"/>
<rect x="523" y="162" width="34" height="17" fill="url(#b1_9)"/>
<rect x="523" y="179" width="34" height="3" fill="url(#b1_11)"/>
<rect x="523" y="182" width="34" height="7" fill="url(#b1_14)"/>
<rect x="523" y="189" width="34" height="7" fill="url(#b1_15)"/>
<rect x="523" y="196" width="34" height="3" fill="url(#b1_18)"/>
<rect x="523" y="199" width="34" height="3" fill="url(#b1_20)"/>
<rect x="523" y="202" width="34" height="3" fill="url(#b1_22)"/>
<rect x="523" y="205" width="34" height="4" fill="url(#b1_23)"/>
<rect x="523" y="209" width="34" height="3" fill="url(#b1_25)"/>
<rect x="523" y="212" width="34" height="3" fill="url(#b1_27)"/>
<rect x="523" y="215" width="34" height="4" fill="url(#b1_30)"/>
<rect x="523" y="219" width="34" height="23" fill="url(#b1_32)"/>
<rect x="523" y="242" width="34" height="3" fill="url(#b1_33)"/>
<rect x="523" y="245" width="34" height="3" fill="url(#b1_43)"/>
<rect x="523" y="248" width="34" height="7" fill="url(#b1_44)"/>
<rect x="523" y="255" width="34" height="3" fill="url(#b1_47)"/>
<rect x="523" y="258" width="34" height="10" fill="url(#b1_52)"/>
<rect x="523" y="268" width="34" height="4" fill="url(#b1_55)"/>
<rect x="523" y="272" width="34" height="3" fill="url(#b1_59)"/>
<rect x="523" y="275" width="34" height="7" fill="url(#b1_60)"/>
<rect x="523" y="282" width="34" height="3" fill="url(#b2_1)"/>
<rect x="523" y="285" width="34" height="3" fill="url(#b2_5)"/>
<rect x="523" y="288" width="34" height="4" fill="url(#b2_7)"/>
<rect x="523" y="292" width="34" height="3" fill="url(#b2_9)"/>
<rect x="523" y="295" width="34" height="3" fill="url(#b2_11)"/>
<rect x="523" y="298" width="34" height="4" fill="url(#b2_14)"/>
<rect x="523" y="302" width="34" height="3" fill="url(#b2_16)"/>
<rect x="523" y="305" width="34" height="3" fill="url(#b2_18)"/>
<rect x="523" y="308" width="34" height="3" fill="url(#b2_20)"/>
<rect x="523" y="311" width="34" height="4" fill="url(#b2_22)"/>
<rect x="523" y="315" width="34" height="3" fill="url(#b2_25)"/>
<rect x="523" y="318" width="34" height="3" fill="url(#b2_27)"/>
<rect x="523" y="321" width="34" height="4" fill="url(#b2_29)"/>
<rect x="523" y="325" width="34" height="3" fill="url(#b2_30)"/>
<rect x="523" y="328" width="34" height="3" fill="url(#b2_31)"/>
<rect x="523" y="331" width="34" height="7" fill="url(#b2_32)"/>
<rect x="523" y="338" width="34" height="3" fill="url(#b2_33)"/>
<rect x="523" y="341" width="34" height="4" fill="url(#b2_35)"/>
<rect x="523" y="345" width="34" height="3" fill="url(#b2_36)"/>
<rect x="523" y="348" width="34" height="3" fill="url(#b2_40)"/>
<rect x="523" y="351" width="34" height="3" fill="url(#b2_43)"/>
<rect x="523" y="354" width="34" height="4" fill="url(#b2_46)"/>
<rect x="523" y="358" width="34" height="3" fill="url(#b2_49)"/>
<rect x="523" y="361" width="34" height="3" fill="url(#b2_51)"/>
<rect x="523" y="364" width="34" height="4" fill="url(#b2_54)"/>
<rect x="523" y="368" width="34" height="3" fill="url(#b2_56)"/>
<rect x="523" y="371" width="34" height="3" fill="url(#b2_58)"/>
<rect x="523" y="374" width="34" height="4" fill="url(#b2_60)"/>
<rect x="523" y="378" width="34" height="3" fill="url(#b2_61)"/>
<rect x="523" y="381" width="34" height="3" fill="url(#b2_62)"/>
<rect x="523" y="384" width="34" height="4" fill="url(#b2_63)"/>
<rect x="523" y="388" width="34" height="3" fill="#aa00aa"/>
<rect x="523" y="391" width="34" height="3" fill="#aa00aa"/>
<rect x="523" y="394" width="34" height="7" fill="url(#b3_1)"/>
<rect x="523" y="401" width="34" height="20" fill="url(#b3_5)"/>
<rect x="523" y="421" width="34" height="13" fill="url(#b3_9)"/>
<rect x="532" y="239" width="13" height="3" fill="url(#l1_32)"/>
<rect x="532" y="242" width="13" height="3" fill="url(#l1_33)"/>
<rect x="532" y="245" width="13" height="3" fill="url(#l1_43)"/>
<rect x="532" y="248" width="13" height="7" fill="url(#l1_44)"/>
<rect x="532" y="255" width="13" height="3" fill="url(#l1_47)"/>
<rect x="532" y="258" width="13" height="10" fill="url(#l1_52)"/>
<rect x="532" y="268" width="13" height="4" fill="url(#l1_55)"/>
<rect x="532" y="272" width="13" height="3" fill="url(#l1_59)"/>
<rect x="532" y="275" width="13" height="7" fill="url(#l1_60)"/>
<rect x="532" y="282" width="13" height="3" fill="url(#l2_1)"/>
<rect x="532" y="285" width="13" height="3" fill="url(#l2_5)"/>
<rect x="532" y="288" width="13" height="4" fill="url(#l2_7)"/>
<rect x="532" y="292" width="13" height="3" fill="url(#l2_9)"/>
<rect x="532" y="295" width="13" height="3" fill="url(#l2_11)"/>
<rect x="532" y="298" width="13" height="4" fill="url(#l2_14)"/>
<rect x="532" y="302" width="13" height="3" fill="url(#l2_16)"/>
<rect x="532" y="305" width="13" height="1" fill="url(#l2_18)"/>
<rect x="575" y="114" width="36" height="320" fill="#000"/>
<rect x="576" y="115" width="34" height="3" fill="#ff00ff"/>
<rect x="576" y="118" width="34" height="14" fill="url(#b1_1)"/>
<rect x="576" y="132" width="34" height="6" fill="url(#b1_2)"/>
<rect x="576" y="138" width="34" height="17" fill="url(#b1_4)"/>
<rect x="576" y="155" width="34" height="7" fill="url(#b1_7)"/>
<rect x="576" y="162" width="34" height="16" fill="url(#b1_9)"/>
<rect x="576" y="178" width="34" height="3" fill="url(#b1_11)"/>
<rect x="576" y="181" width="34" height="7" fill="url(#b1_14)"/>
<rect x="576" y="188" width="34" height="7" fill="url(#b1_15)"/>
<rect x="576" y="195" width="34" height="3" fill="url(#b1_18)"/>
<rect x="576" y="198" width="34" height="3" fill="url(#b1_20)"/>
<rect x="576" y="201" width="34" height="4" fill="url(#b1_22)"/>
<rect x="576" y="205" width="34" height="3" fill="url(#b1_23)"/>
<rect x="576" y="208" width="34" height="3" fill="url(#b1_25)"/>
<rect x="576" y="211" width="34" height="4" fill="url(#b1_27)"/>
<rect x="576" y="215" width="34" height="3" fill="url(#b1_30)"/>
<rect x="576" y="218" width="34" height="23" fill="url(#b1_32)"/>
<rect x="576" y="241" width="34" height="4" fill="url(#b1_33)"/>
<rect x="576" y="245" width="34" height="3" fill="url(#b1_43)"/>
<rect x="576" y="248" width="34" height="7" fill="url(#b1_44)"/>
<rect x="576" y="255" width="34" height="3" fill="url(#b1_47)"/>
<rect x="576" y="258" width="34" height="10" fill="url(#b1_52)"/>
<rect x="576" y="268" width="34" height="3" fill="url(#b1_55)"/>
<rect x="576" y="271" width="34" height="4" fill="url(#b1_59)"/>
<rect x="576" y="275" width="34" height="6" fill="url(#b1_60)"/>
<rect x="576" y="281" width="34" height="3" fill="url(#b2_1)"/>
<rect x="576" y="284" width="34" height="4" fill="url(#b2_5)"/>
<rect x="576" y="288" width="34" height="3" fill="url(#b2_7)"/>
<rect x="576" y="291" width="34" height="3" fill="url(#b2_9)"/>
<rect x="576" y="294" width="34" height="4" fill="url(#b2_11)"/>
<rect x="576" y="298" width="34" height="3" fill="url(#b2_14)"/>
<rect x="576" y="301" width="34" height="3" fill="url(#b2_16)"/>
<rect x="576" y="304" width="34" height="4" fill="url(#b2_18)"/>
<rect x="576" y="308" width="34" height="3" fill="url(#b2_20)"/>
<rect x="576" y="311" width="34" height="3" fill="url(#b2_22)"/>
<rect x="576" y="314" width="34" height="4" fill="url(#b2_25)"/>
<rect x="576" y="318" width="34" height="3" fill="url(#b2_27)"/>
<rect x="576" y="321" width="34" height="3" fill="url(#b2_29)"/>
<rect x="576" y="324" width="34" height="4" fill="url(#b2_30)"/>
<rect x="576" y="328" width="34" height="3" fill="url(#b2_31)"/>
<rect x="576" y="331" width="34" height="7" fill="url(#b2_32)"/>
<rect x="576" y="338" width="34" height="3" fill="url(#b2_33)"/>
<rect x="576" y="341" width="34" height="3" fill="url(#b2_35)"/>
<rect x="576" y="344" width="34" height="4" fill="url(#b2_36)"/>
<rect x="576" y="348" width="34" height="3" fill="url(#b2_40)"/>
<rect x="576" y="351" width="34" height="3" fill="url(#b2_43)"/>
<rect x="576" y="354" width="34" height="4" fill="url(#b2_46)"/>
<rect x="576" y="358" width="34" height="3" fill="url(#b2_49)"/>
<rect x="576" y="361" width="34" height="3" fill="url(#b2_51)"/>
<rect x="576" y="364" width="34" height="4" fill="url(#b2_54)"/>
<rect x="576" y="368" width="34" height="3" fill="url(#b2_56)"/>
<rect x="576" y="371" width="34" height="3" fill="url(#b2_58)"/>
<rect x="576" y="374" width="34" height="4" fill="url(#b2_60)"/>
<rect x="576" y="378" width="34" height="3" fill="url(#b2_61)"/>
<rect x="576" y="381" width="34" height="3" fill="url(#b2_62)"/>
<rect x="576" y="384" width="34" height="3" fill="url(#b2_63)"/>
<rect x="576" y="387" width="34" height="4" fill="#aa00aa"/>
<rect x="576" y="391" width="34" height="3" fill="#aa00aa"/>
<rect x="576" y="394" width="34" height="7" fill="url(#b3_1)"/>
<rect x="576" y="401" width="34" height="20" fill="url(#b3_5)"/>
<rect x="576" y="421" width="34" height="13" fill="url(#b3_9)"/>
<rect x="586" y="238" width="13" height="3" fill="url(#l1_32)"/>
<rect x="586" y="241" width="13" height="4" fill="url(#l1_33)"/>
<rect x="586" y="245" width="13" height="3" fill="url(#l1_43)"/>
<rect x="586" y="248" width="13" height="7" fill="url(#l1_44)"/>
<rect x="586" y="255" width="13" height="3" fill="url(#l1_47)"/>
<rect x="586" y="258" width="13" height="10" fill="url(#l1_52)"/>
<rect x="586" y="268" width="13" height="3" fill="url(#l1_55)"/>
<rect x="586" y="271" width="13" height="4" fill="url(#l1_59)"/>
<rect x="586" y="275" width="13" height="6" fill="url(#l1_60)"/>
<rect x="586" y="281" width="13" height="3" fill="url(#l2_1)"/>
<rect x="586" y="284" width="13" height="4" fill="url(#l2_5)"/>
<rect x="586" y="288" width="13" height="3" fill="url(#l2_7)"/>
<rect x="586" y="291" width="13" height="3" fill="url(#l2_9)"/>
<rect x="586" y="294" width="13" height="4" fill="url(#l2_11)"/>
<rect x="586" y="298" width="13" height="3" fill="url(#l2_14)"/>
<rect x="586" y="301" width="13" height="3" fill="url(#l2_16)"/>
<rect x="586" y="304" width="13" height="1" fill="url(#l2_18)"/>
<rect x="628" y="106" width="37" height="328" fill="#000"/>
<rect x="629" y="107" width="35" height="3" fill="#ff00ff"/>
<rect x="629" y="110" width="35" height="14" fill="url(#b1_1)"/>
<rect x="629" y="124" width="35" height="7" fill="url(#b1_2)"/>
<rect x="629" y="131" width="35" height="17" fill="url(#b1_4)"/>
<rect x="629" y="148" width="35" height="7" fill="url(#b1_7)"/>
<rect x="629" y="155" width="35" height="17" fill="url(#b1_9)"/>
<rect x="629" y="172" width="35" height="3" fill="url(#b1_11)"/>
<rect x="629" y="175" width="35" height="7" fill="url(#b1_14)"/>
<rect x="629" y="182" width="35" height="7" fill="url(#b1_15)"/>
<rect x="629" y="189" width="35" height="3" fill="url(#b1_18)"/>
<rect x="629" y="192" width="35" height="4" fill="url(#b1_20)"/>
<rect x="629" y="196" width="35" height="3" fill="url(#b1_22)"/>
<rect x="629" y="199" width="35" height="3" fill="url(#b1_23)"/>
<rect x="629" y="202" width="35" height="4" fill="url(#b1_25)"/>
<rect x="629" y="206" width="35" height="3" fill="url(#b1_27)"/>
<rect x="629" y="209" width="35" height="4" fill="url(#b1_30)"/>
<rect x="629" y="213" width="35" height="23" fill="url(#b1_32)"/>
<rect x="629" y="236" width="35" height="4" fill="url(#b1_33)"/>
<rect x="629" y="240" width="35" height="3" fill="url(#b1_43)"/>
<rect x="629" y="243" width="35" height="7" fill="url(#b1_44)"/>
<rect x="629" y="250" width="35" height="3" fill="url(#b1_47)"/>
<rect x="629" y="253" width="35" height="11" fill="url(#b1_52)"/>
<rect x="629" y="264" width="35" height="3" fill="url(#b1_55)"/>
<rect x="629" y="267" width="35" height="4" fill="url(#b1_59)"/>
<rect x="629" y="271" width="35" height="6" fill="url(#b1_60)"/>
<rect x="629" y="277" width="35" height="4" fill="url(#b2_1)"/>
<rect x="629" y="281" width="35" height="3" fill="url(#b2_5)"/>
<rect x="629" y="284" width="35" height="4" fill="url(#b2_7)"/>
<rect x="629" y="288" width="35" height="3" fill="url(#b2_9)"/>
<rect x="629" y="291" width="35" height="3" fill="url(#b2_11)"/>
<rect x="629" y="294" width="35" height="4" fill="url(#b2_14)"/>
<rect x="629" y="298" width="35" height="3" fill="url(#b2_16)"/>
<rect x="629" y="301" width="35" height="4" fill="url(#b2_18)"/>
<rect x="629" y="305" width="35" height="3" fill="url(#b2_20)"/>
<rect x="629" y="308" width="35" height="3" fill="url(#b2_22)"/>
<rect x="629" y="311" width="35" height="4" fill="url(#b2_25)"/>
<rect x="629" y="315" width="35" height="3" fill="url(#b2_27)"/>
<rect x="629" y="318" width="35" height="4" fill="url(#b2_29)"/>
<rect x="629" y="322" width="35" height="3" fill="url(#b2_30)"/>
<rect x="629" y="325" width="35" height="3" fill="url(#b2_31)"/>
<rect x="629" y="328" width="35" height="7" fill="url(#b2_32)"/>
<rect x="629" y="335" width="35" height="4" fill="url(#b2_33)"/>
<rect x="629" y="339" width="35" height="3" fill="url(#b2_35)"/>
<rect x="629" y="342" width="35" height="3" fill="url(#b2_36)"/>
<rect x="629" y="345" width="35" height="4" fill="url(#b2_40)"/>
<rect x="629" y="349" width="35" height="3" fill="url(#b2_43)"/>
<rect x="629" y="352" width="35" height="4" fill="url(#b2_46)"/>
<rect x="629" y="356" width="35" height="3" fill="url(#b2_49)"/>
<rect x="629" y="359" width="35" height="3" fill="url(#b2_51)"/>
<rect x="629" y="362" width="35" height="4" fill="url(#b2_54)"/>
<rect x="629" y="366" width="35" height="3" fill="url(#b2_56)"/>
<rect x="629" y="369" width="35" height="4" fill="url(#b2_58)"/>
<rect x="629" y="373" width="35" height="3" fill="url(#b2_60)"/>
<rect x="629" y="376" width="35" height="3" fill="url(#b2_61)"/>
<rect x="629" y="379" width="35" height="4" fill="url(#b2_62)"/>
<rect x="629" y="383" width="35" height="3" fill="url(#b2_63)"/>
<rect x="629" y="386" width="35" height="4" fill="#aa00aa"/>
<rect x="629" y="390" width="35" height="3" fill="#aa00aa"/>
<rect x="629" y="393" width="35" height="7" fill="url(#b3_1)"/>
<rect x="629" y="400" width="35" height="20" fill="url(#b3_5)"/>
<rect x="629" y="420" width="35" height="14" fill="url(#b3_9)"/>
<rect x="638" y="234" width="13" height="2" fill="url(#l1_32)"/>
<rect x="638" y="236" width="13" height="4" fill="url(#l1_33)"/>
<rect x="638" y="240" width="13" height="3" fill="url(#l1_43)"/>
<rect x="638" y="243" width="13" height="7" fill="url(#l1_44)"/>
<rect x="638" y="250" width="13" height="3" fill="url(#l1_47)"/>
<rect x="638" y="253" width="13" height="11" fill="url(#l1_52)"/>
<rect x="638" y="264" width="13" height="3" fill="url(#l1_55)"/>
<rect x="638" y="267" width="13" height="4" fill="url(#l1_59)"/>
<rect x="638" y="271" width="13" height="6" fill="url(#l1_60)"/>
<rect x="638" y="277" width="13" height="4" fill="url(#l2_1)"/>
<rect x="638" y="281" width="13" height="3" fill="url(#l2_5)"/>
<rect x="638" y="284" width="13" height="4" fill="url(#l2_7)"/>
<rect x="638" y="288" width="13" height="3" fill="url(#l2_9)"/>
<rect x="638" y="291" width="13" height="3" fill="url(#l2_11)"/>
<rect x="638" y="294" width="13" height="4" fill="url(#l2_14)"/>
<rect x="638" y="298" width="13" height="3" fill="url(#l2_16)"/>
<rect x="681" y="126" width="37" height="308" fill="#000"/>
<rect x="682" y="127" width="35" height="3" fill="#ff00ff"/>
<rect x="682" y="130" width="35" height="13" fill="url(#b1_1)"/>
<rect x="682" y="143" width="35" height="6" fill="url(#b1_2)"/>
<rect x="682" y="149" width="35" height="16" fill="url(#b1_4)"/>
<rect x="682" y="165" width="35" height="7" fill="url(#b1_7)"/>
<rect x="682" y="172" width="35" height="16" fill="url(#b1_9)"/>
<rect x="682" y="188" width="35" height="3" fill="url(#b1_11)"/>
<rect x="682" y="191" width="35" height="6" fill="url(#b1_14)"/>
<rect x="682" y="197" width="35" height="7" fill="url(#b1_15)"/>
<rect x="682" y="204" width="35" height="3" fill="url(#b1_18)"/>
<rect x="682" y="207" width="35" height="3" fill="url(#b1_20)"/>
<rect x="682" y="210" width="35" height="3" fill="url(#b1_22)"/>
<rect x="682" y="213" width="35" height="4" fill="url(#b1_23)"/>
<rect x="682" y="217" width="35" height="3" fill="url(#b1_25)"/>
<rect x="682" y="220" width="35" height="3" fill="url(#b1_27)"/>
<rect x="682" y="223" width="35" height="3" fill="url(#b1_30)"/>
<rect x="682" y="226" width="35" height="23" fill="url(#b1_32)"/>
<rect x="682" y="249" width="35" height="3" fill="url(#b1_33)"/>
<rect x="682" y="252" width="35" height="3" fill="url(#b1_43)"/>
<rect x="682" y="255" width="35" height="6" fill="url(#b1_44)"/>
<rect x="682" y="261" width="35" height="4" fill="url(#b1_47)"/>
<rect x="682" y="265" width="35" height="9" fill="url(#b1_52)"/>
<rect x="682" y="274" width="35" height="3" fill="url(#b1_55)"/>
<rect x="682" y="277" width="35" height="4" fill="url(#b1_59)"/>
<rect x="682" y="281" width="35" height="6" fill="url(#b1_60)"/>
<rect x="682" y="287" width="35" height="3" fill="url(#b2_1)"/>
<rect x="682" y="290" width="35" height="3" fill="url(#b2_5)"/>
<rect x="682" y="293" width="35" height="3" fill="url(#b2_7)"/>
<rect x="682" y="296" width="35" height="4" fill="url(#b2_9)"/>
<rect x="682" y="300" width="35" height="3" fill="url(#b2_11)"/>
<rect x="682" y="303" width="35" height="3" fill="url(#b2_14)"/>
<rect x="682" y="306" width="35" height="3" fill="url(#b2_16)"/>
<rect x="682" y="309" width="35" height="3" fill="url(#b2_18)"/>
<rect x="682" y="312" width="35" height="4" fill="url(#b2_20)"/>
<rect x="682" y="316" width="35" height="3" fill="url(#b2_22)"/>
<rect x="682" y="319" width="35" height="3" fill="url(#b2_25)"/>
<rect x="682" y="322" width="35" height="3" fill="url(#b2_27)"/>
<rect x="682" y="325" width="35" height="3" fill="url(#b2_29)"/>
<rect x="682" y="328" width="35" height="4" fill="url(#b2_30)"/>
<rect x="682" y="332" width="35" height="3" fill="url(#b2_31)"/>
<rect x="682" y="335" width="35" height="6" fill="url(#b2_32)"/>
<rect x="682" y="341" width="35" height="3" fill="url(#b2_33)"/>
<rect x="682" y="344" width="35" height="4" fill="url(#b2_35)"/>
<rect x="682" y="348" width="35" height="3" fill="url(#b2_36)"/>
<rect x="682" y="351" width="35" height="3" fill="url(#b2_40)"/>
<rect x="682" y="354" width="35" height="3" fill="url(#b2_43)"/>
<rect x="682" y="357" width="35" height="3" fill="url(#b2_46)"/>
<rect x="682" y="360" width="35" height="4" fill="url(#b2_49)"/>
<rect x="682" y="364" width="35" height="3" fill="url(#b2_51)"/>
<rect x="682" y="367" width="35" height="3" fill="url(#b2_54)"/>
<rect x="682" y="370" width="35" height="3" fill="url(#b2_56)"/>
<rect x="682" y="373" width="35" height="3" fill="url(#b2_58)"/>
<rect x="682" y="376" width="35" height="4" fill="url(#b2_60)"/>
<rect x="682" y="380" width="35" height="3" fill="url(#b2_61)"/>
<rect x="682" y="383" width="35" height="3" fill="url(#b2_62)"/>
<rect x="682" y="386" width="35" height="3" fill="url(#b2_63)"/>
<rect x="682" y="389" width="35" height="3" fill="#aa00aa"/>
<rect x="682" y="392" width="35" height="4" fill="#aa00aa"/>
<rect x="682" y="396" width="35" height="6" fill="url(#b3_1)"/>
<rect x="682" y="402" width="35" height="19" fill="url(#b3_5)"/>
<rect x="682" y="421" width="35" height="13" fill="url(#b3_9)"/>
<rect x="693" y="244" width="13" height="5" fill="url(#l1_32)"/>
<rect x="693" y="249" width="13" height="3" fill="url(#l1_33)"/>
<rect x="693" y="252" width="13" height="3" fill="url(#l1_43)"/>
<rect x="693" y="255" width="13" height="6" fill="url(#l1_44)"/>
<rect x="693" y="261" width="13" height="4" fill="url(#l1_47)"/>
<rect x="693" y="265" width="13" height="9" fill="url(#l1_52)"/>
<rect x="693" y="274" width="13" height="3" fill="url(#l1_55)"/>
<rect x="693" y="277" width="13" height="4" fill="url(#l1_59)"/>
<rect x="693" y="281" width="13" height="6" fill="url(#l1_60)"/>
<rect x="693" y="287" width="13" height="3" fill="url(#l2_1)"/>
<rect x="693" y="290" width="13" height="3" fill="url(#l2_5)"/>
<rect x="693" y="293" width="13" height="3" fill="url(#l2_7)"/>
<rect x="693" y="296" width="13" height="4" fill="url(#l2_9)"/>
<rect x="693" y="300" width="13" height="3" fill="url(#l2_11)"/>
<rect x="693" y="303" width="13" height="3" fill="url(#l2_14)"/>
<rect x="693" y="306" width="13" height="3" fill="url(#l2_16)"/>
<rect x="693" y="309" width="13" height="3" fill="url(#l2_18)"/>
</g>
<clipPath id="k0"><rect x="107" y="273" width="13" height="59"/></clipPath>
<g clip-path="url(#k0)" class="r" font-size="16" fill="#fff"><text stroke="#fff" stroke-width="0.4" transform="translate(118,332) rotate(-90) scale(1.18,1.03)" x="-0.34 7.88 12.46 20.34 27.80">8 815</text><text font-weight="bold" transform="translate(117.7,288.00) rotate(-90) scale(0.85,1.35)">,</text><text stroke="#fff" stroke-width="0.4" transform="translate(118,332) rotate(-90) scale(1.18,1.03)" x="42.46">0</text></g>
<clipPath id="k1"><rect x="159" y="256" width="13" height="60"/></clipPath>
<g clip-path="url(#k1)" class="r" font-size="16" fill="#fff"><text stroke="#fff" stroke-width="0.4" transform="translate(170,316) rotate(-90) scale(1.18,1.03)" x="-0.34 7.88 12.46 20.34 27.80">9 925</text><text font-weight="bold" transform="translate(169.7,272.00) rotate(-90) scale(0.85,1.35)">,</text><text stroke="#fff" stroke-width="0.4" transform="translate(170,316) rotate(-90) scale(1.18,1.03)" x="42.46">8</text></g>
<clipPath id="k2"><rect x="213" y="259" width="13" height="60"/></clipPath>
<g clip-path="url(#k2)" class="r" font-size="16" fill="#fff"><text stroke="#fff" stroke-width="0.4" transform="translate(224,319) rotate(-90) scale(1.18,1.03)" x="-0.34 7.88 12.46 20.34 27.80">9 768</text><text font-weight="bold" transform="translate(223.7,275.00) rotate(-90) scale(0.85,1.35)">,</text><text stroke="#fff" stroke-width="0.4" transform="translate(224,319) rotate(-90) scale(1.18,1.03)" x="42.46">8</text></g>
<clipPath id="k3"><rect x="266" y="266" width="13" height="59"/></clipPath>
<g clip-path="url(#k3)" class="r" font-size="16" fill="#fff"><text stroke="#fff" stroke-width="0.4" transform="translate(277,325) rotate(-90) scale(1.18,1.03)" x="-0.34 7.88 12.46 20.34 27.80">9 320</text><text font-weight="bold" transform="translate(276.7,281.00) rotate(-90) scale(0.85,1.35)">,</text><text stroke="#fff" stroke-width="0.4" transform="translate(277,325) rotate(-90) scale(1.18,1.03)" x="42.46">0</text></g>
<clipPath id="k4"><rect x="319" y="264" width="14" height="59"/></clipPath>
<g clip-path="url(#k4)" class="r" font-size="16" fill="#fff"><text stroke="#fff" stroke-width="0.4" transform="translate(331,323) rotate(-90) scale(1.18,1.03)" x="-0.34 7.88 12.46 20.34 27.80">9 476</text><text font-weight="bold" transform="translate(330.7,279.00) rotate(-90) scale(0.85,1.35)">,</text><text stroke="#fff" stroke-width="0.4" transform="translate(331,323) rotate(-90) scale(1.18,1.03)" x="42.46">0</text></g>
<clipPath id="k5"><rect x="373" y="268" width="13" height="59"/></clipPath>
<g clip-path="url(#k5)" class="r" font-size="16" fill="#fff"><text stroke="#fff" stroke-width="0.4" transform="translate(384,327) rotate(-90) scale(1.18,1.03)" x="-0.34 7.88 12.46 20.34 27.80">9 201</text><text font-weight="bold" transform="translate(383.7,283.00) rotate(-90) scale(0.85,1.35)">,</text><text stroke="#fff" stroke-width="0.4" transform="translate(384,327) rotate(-90) scale(1.18,1.03)" x="42.46">0</text></g>
<clipPath id="k6"><rect x="426" y="257" width="13" height="60"/></clipPath>
<g clip-path="url(#k6)" class="r" font-size="16" fill="#fff"><text stroke="#fff" stroke-width="0.4" transform="translate(437,317) rotate(-90) scale(1.18,1.03)" x="-0.34 7.88 12.46 20.34 27.80">9 901</text><text font-weight="bold" transform="translate(436.7,273.00) rotate(-90) scale(0.85,1.35)">,</text><text stroke="#fff" stroke-width="0.4" transform="translate(437,317) rotate(-90) scale(1.18,1.03)" x="42.46">5</text></g>
<clipPath id="k7"><rect x="479" y="251" width="14" height="68"/></clipPath>
<g clip-path="url(#k7)" class="r" font-size="16" fill="#fff"><text stroke="#fff" stroke-width="0.4" transform="translate(491,319) rotate(-90) scale(1.18,1.03)" x="-0.85 8.22 16.53 20.51 29.24 37.03">10 040</text><text font-weight="bold" transform="translate(490.7,265.90) rotate(-90) scale(0.85,1.35)">,</text><text stroke="#fff" stroke-width="0.4" transform="translate(491,319) rotate(-90) scale(1.18,1.03)" x="50.59">0</text></g>
<clipPath id="k8"><rect x="532" y="239" width="13" height="67"/></clipPath>
<g clip-path="url(#k8)" class="r" font-size="16" fill="#fff"><text stroke="#fff" stroke-width="0.4" transform="translate(543,306) rotate(-90) scale(1.18,1.03)" x="-0.85 8.22 16.53 20.51 29.24 37.03">10 900</text><text font-weight="bold" transform="translate(542.7,252.90) rotate(-90) scale(0.85,1.35)">,</text><text stroke="#fff" stroke-width="0.4" transform="translate(543,306) rotate(-90) scale(1.18,1.03)" x="51.44">5</text></g>
<clipPath id="k9"><rect x="586" y="238" width="13" height="67"/></clipPath>
<g clip-path="url(#k9)" class="r" font-size="16" fill="#fff"><text stroke="#fff" stroke-width="0.4" transform="translate(597,305) rotate(-90) scale(1.18,1.03)" x="-0.85 8.22 16.53 20.51 29.24 37.03">10 922</text><text font-weight="bold" transform="translate(596.7,251.90) rotate(-90) scale(0.85,1.35)">,</text><text stroke="#fff" stroke-width="0.4" transform="translate(597,305) rotate(-90) scale(1.18,1.03)" x="51.44">0</text></g>
<clipPath id="k10"><rect x="638" y="234" width="13" height="67"/></clipPath>
<g clip-path="url(#k10)" class="r" font-size="16" fill="#fff"><text stroke="#fff" stroke-width="0.4" transform="translate(649,301) rotate(-90) scale(1.18,1.03)" x="-0.85 8.22 16.53 20.51 29.24 37.03">11 185</text><text font-weight="bold" transform="translate(648.7,247.90) rotate(-90) scale(0.85,1.35)">,</text><text stroke="#fff" stroke-width="0.4" transform="translate(649,301) rotate(-90) scale(1.18,1.03)" x="50.59">9</text></g>
<clipPath id="k11"><rect x="693" y="244" width="13" height="68"/></clipPath>
<g clip-path="url(#k11)" class="r" font-size="16" fill="#fff"><text stroke="#fff" stroke-width="0.4" transform="translate(704,312) rotate(-90) scale(1.18,1.03)" x="-0.85 8.22 16.53 20.51 29.24 37.03">10 518</text><text font-weight="bold" transform="translate(703.7,258.90) rotate(-90) scale(0.85,1.35)">,</text><text stroke="#fff" stroke-width="0.4" transform="translate(704,312) rotate(-90) scale(1.18,1.03)" x="50.59">0</text></g>
<text class="t2" font-size="13.33" y="86.7" x="18.5 25.0 33.0 36.0 44.0 51.5 58.2 62.2 70.1" fill="#000">12 000,00</text>
<text class="t2" font-size="13.33" y="144.7" x="18.5 25.1 33.0 36.0 44.0 51.5 58.2 62.2 70.1" fill="#000">10 000,00</text>
<text class="t2" font-size="13.33" y="203.7" x="25.1 33.0 36.0 44.0 51.5 58.2 62.2 70.1" fill="#000">8 000,00</text>
<text class="t2" font-size="13.33" y="262.7" x="25.1 33.0 36.0 44.0 51.5 58.2 62.2 70.1" fill="#000">6 000,00</text>
<text class="t2" font-size="13.33" y="320.7" x="25.3 33.0 36.0 44.0 51.5 58.2 62.2 70.1" fill="#000">4 000,00</text>
<text class="t2" font-size="13.33" y="380.7" x="25.0 33.0 36.0 44.0 51.5 58.2 62.2 70.1" fill="#000">2 000,00</text>
<text class="t2" font-size="13.33" y="438.7" x="51.5 58.2 62.2 70.1" fill="#000">0,00</text>
<text class="s" font-size="15.6" fill="#000" stroke="#fff" stroke-width="0.18" transform="translate(119.25,495.7) rotate(-90)" textLength="56.5" lengthAdjust="spacing">Январь</text>
<text class="s" font-size="15.6" fill="#000" stroke="#fff" stroke-width="0.18" transform="translate(172.0,505.1) rotate(-90)" textLength="68.1" lengthAdjust="spacing">Февраль</text>
<text class="s" font-size="15.6" fill="#000" stroke="#fff" stroke-width="0.18" transform="translate(225.6,480.4) rotate(-90)" textLength="39.7" lengthAdjust="spacing">Март</text>
<text class="s" font-size="15.6" fill="#000" stroke="#fff" stroke-width="0.18" transform="translate(279.6,496.1) rotate(-90)" textLength="57.6" lengthAdjust="spacing">Апрель</text>
<text class="s" font-size="15.6" fill="#000" stroke="#fff" stroke-width="0.18" transform="translate(332.5,472.9) rotate(-90)" textLength="30.9" lengthAdjust="spacing">Май</text>
<text class="s" font-size="15.6" fill="#000" stroke="#fff" stroke-width="0.18" transform="translate(385.2,482.8) rotate(-90)" textLength="42.6" lengthAdjust="spacing">Июнь</text>
<text class="s" font-size="15.6" fill="#000" stroke="#fff" stroke-width="0.18" transform="translate(438.5,482.8) rotate(-90)" textLength="42.6" lengthAdjust="spacing">Июль</text>
<text class="s" font-size="15.6" fill="#000" stroke="#fff" stroke-width="0.18" transform="translate(490.8,489.0) rotate(-90)" textLength="50.9" lengthAdjust="spacing">Август</text>
<text class="s" font-size="15.6" fill="#000" stroke="#fff" stroke-width="0.18" transform="translate(544.6,512.9) rotate(-90)" textLength="74.4" lengthAdjust="spacing">Сентябрь</text>
<text class="s" font-size="15.6" fill="#000" stroke="#fff" stroke-width="0.18" transform="translate(597.5,502.5) rotate(-90)" textLength="65.5" lengthAdjust="spacing">Октябрь</text>
<text class="s" font-size="15.6" fill="#000" stroke="#fff" stroke-width="0.18" transform="translate(650.8,495.7) rotate(-90)" textLength="56.5" lengthAdjust="spacing">Ноябрь</text>
<text class="s" font-size="15.6" fill="#000" stroke="#fff" stroke-width="0.18" transform="translate(703.9,500.0) rotate(-90)" textLength="64.0" lengthAdjust="spacing">Декабрь</text>
<g transform="scale(0.94,1)"><text class="t2" font-size="20.3" font-weight="bold" fill="#000" stroke="#000" stroke-width="0.7" stroke-linejoin="round" y="40.4">
<tspan x="147.34" textLength="104.89" lengthAdjust="spacing">Динамика</tspan>
<tspan x="257.34" textLength="82.55" lengthAdjust="spacing">прибыл</tspan>
<tspan x="345.64" textLength="121.49" lengthAdjust="spacing">розничного</tspan>
<tspan x="473.30" textLength="75.11" lengthAdjust="spacing">отдела</tspan>
<tspan x="553.09" textLength="22.55" lengthAdjust="spacing">за</tspan>
<tspan x="580.32" textLength="65.53" lengthAdjust="spacing">1997г.</tspan>
</text></g>
<text class="t2" font-size="17.3" font-weight="bold" fill="#000" stroke="#000" stroke-width="0.5" stroke-linejoin="round" transform="translate(374.0,537.6) scale(0.93,1)" textLength="73.12" lengthAdjust="spacing">Месяцы</text>
</svg></body></html>
